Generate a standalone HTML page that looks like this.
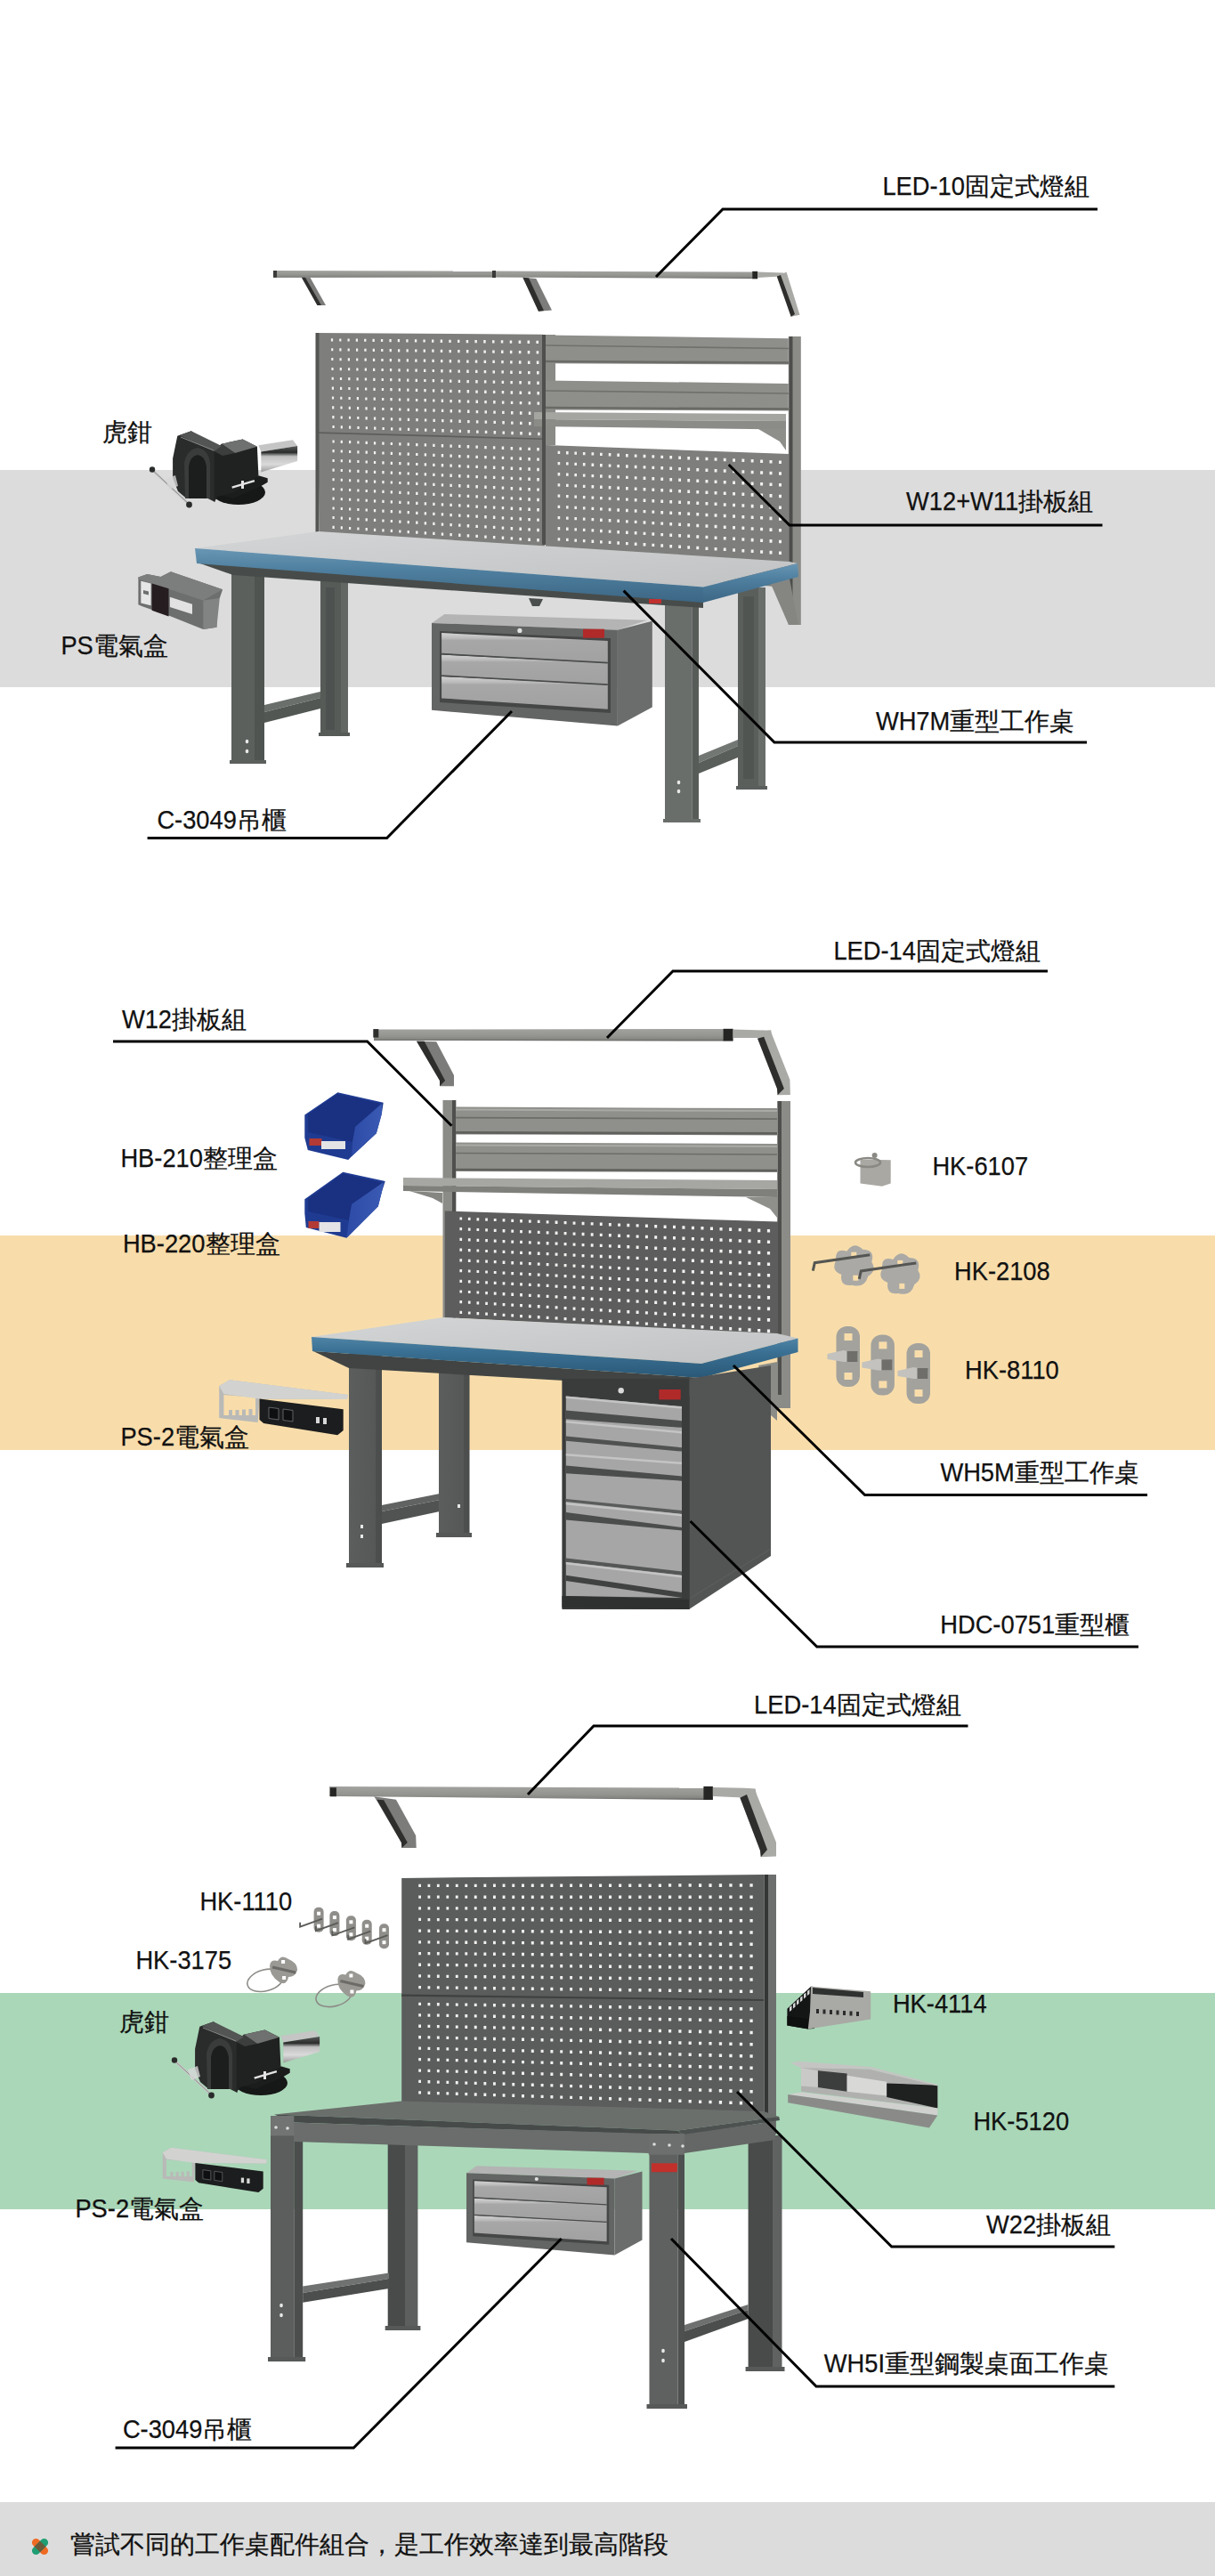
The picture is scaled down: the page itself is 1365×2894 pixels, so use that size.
<!DOCTYPE html>
<html><head><meta charset="utf-8"><title>Workbench accessories</title>
<style>
html,body{margin:0;padding:0;background:#fff;}
body{width:1365px;height:2894px;overflow:hidden;position:relative;}
svg{position:absolute;left:0;top:0;display:block;}
text{font-family:"Liberation Sans",sans-serif;fill:#111;stroke:#111;stroke-width:0.25px;}
</style></head><body>
<svg width="1365" height="2894" viewBox="0 0 1365 2894">
<rect x="0" y="528" width="1365" height="244" fill="#dcdcdc" />
<rect x="0" y="1388" width="1365" height="241" fill="#f8ddab" />
<rect x="0" y="2239" width="1365" height="243" fill="#aad7b8" />
<rect x="0" y="2811" width="1365" height="83" fill="#dcdcdc" />
<defs>
<linearGradient id="edge1" x1="0" y1="0" x2="0" y2="1"><stop offset="0" stop-color="#6896b4"/><stop offset="0.4" stop-color="#4f7f9f"/><stop offset="1" stop-color="#3c6684"/></linearGradient>
<linearGradient id="edge" x1="0" y1="0" x2="0" y2="1"><stop offset="0" stop-color="#4f84a6"/><stop offset="0.35" stop-color="#3a7093"/><stop offset="1" stop-color="#2a5877"/></linearGradient>
<linearGradient id="top1" x1="0" y1="0" x2="1" y2="1"><stop offset="0" stop-color="#d3d5d6"/><stop offset="1" stop-color="#c0c2c3"/></linearGradient>
<linearGradient id="bar" x1="0" y1="0" x2="0" y2="1"><stop offset="0" stop-color="#a2a3a0"/><stop offset="0.6" stop-color="#93948f"/><stop offset="0.85" stop-color="#858682"/><stop offset="1" stop-color="#5a5b58"/></linearGradient>
<linearGradient id="drw" x1="0" y1="0" x2="0" y2="1"><stop offset="0" stop-color="#d2d3d2"/><stop offset="0.18" stop-color="#b9bab9"/><stop offset="0.25" stop-color="#a6a7a6"/><stop offset="1" stop-color="#a0a1a0"/></linearGradient>
<linearGradient id="leg" x1="0" y1="0" x2="1" y2="0"><stop offset="0" stop-color="#5c615e"/><stop offset="0.65" stop-color="#575c59"/><stop offset="0.66" stop-color="#4c514e"/><stop offset="1" stop-color="#4a4f4c"/></linearGradient>
<linearGradient id="leg2" x1="0" y1="0" x2="1" y2="0"><stop offset="0" stop-color="#5b5e5d"/><stop offset="0.8" stop-color="#555857"/><stop offset="0.81" stop-color="#4c4f4e"/><stop offset="1" stop-color="#4a4d4c"/></linearGradient>
<linearGradient id="leg3" x1="0" y1="0" x2="1" y2="0"><stop offset="0" stop-color="#6a6d6b"/><stop offset="0.78" stop-color="#646765"/><stop offset="0.8" stop-color="#4f5251"/><stop offset="1" stop-color="#4b4e4d"/></linearGradient>
<linearGradient id="slide" x1="0" y1="0" x2="0" y2="1"><stop offset="0" stop-color="#5a5b5a"/><stop offset="0.25" stop-color="#2a2b2b"/><stop offset="0.4" stop-color="#bfc0bf"/><stop offset="0.7" stop-color="#d9dad9"/><stop offset="1" stop-color="#9a9b9a"/></linearGradient>
<linearGradient id="blueside" x1="0" y1="0" x2="1" y2="0"><stop offset="0" stop-color="#2d4ba6"/><stop offset="1" stop-color="#3a5ab4"/></linearGradient>
<g id="vice">
 <ellipse cx="268" cy="553" rx="30" ry="14" fill="#161717"/>
 <polygon points="240.7,555 262,560 290,548 300.7,541.7 300.7,537.2 290.4,534.3" fill="#1b1c1c"/>
 <polygon points="199.3,489.8 214.8,484.2 241.5,503.1 241.5,563.9 229.6,558 208.9,559.4 200,552 194.1,537.2 194.1,515" fill="#2a2b2b"/>
 <path d="M208,560 L207,520 Q210,505 222,503 Q234,505 236,520 L236,560 Z" fill="#3a3b3b"/>
 <path d="M212,560 L212,524 Q214,512 222,511 Q230,512 232,524 L232,560 Z" fill="#1c1d1d"/>
 <polygon points="240.7,506.9 248.9,498.7 272.6,493.5 288.9,501.7 290.4,534.3 262.2,553.5 244.4,558 240.7,563.9" fill="#202121"/>
 <polygon points="248.9,498.7 272.6,493.5 288.9,501.7 264,509" fill="#6f7070"/>
 <polygon points="240.7,506.9 248.9,498.7 264,509 250,512" fill="#3c3d3d"/>
 <polygon points="201.5,489.1 214.8,484.2 248.9,500.9 240.7,506.9" fill="#535454"/>
 <polyline points="203,491 240,506" fill="none" stroke="#8a8b8b" stroke-width="1"/>
 <polygon points="290.4,500.2 328.9,494.3 334.1,500.9 293.3,507.6" fill="#c4c5c4"/>
 <polygon points="293.3,507.6 334.1,500.9 334.1,518 293.3,530.6" fill="url(#slide)"/>
 <polyline points="170,527 213,567" fill="none" stroke="#c9cac9" stroke-width="2.4"/>
 <polyline points="170,527 213,567" fill="none" stroke="#7a7b7b" stroke-width="0.8"/>
 <circle cx="171" cy="527.5" r="3.2" fill="#2a2b2b"/><circle cx="212.5" cy="567" r="3.4" fill="#2a2b2b"/>
 <polyline points="260.7,547.6 285.9,540.2" fill="none" stroke="#e4e4e4" stroke-width="2.4"/>
 <rect x="271" y="540" width="3" height="9" fill="#e4e4e4"/>
 <polygon points="186,538 197,534 200,546 190,550" fill="#d7d7d7" opacity="0.8"/>
</g>
<g id="cab">
 <polygon points="485,700 499.4,690 727.2,696.7 693.9,707.8" fill="#b3b4b3"/>
 <polygon points="485,700 693.9,707.8 693.9,815.6 485,797.8" fill="#636564"/>
 <polygon points="693.9,707.8 732.8,697.8 732.8,794.4 693.9,815.6" fill="#6b6d6c"/>
 <polygon points="494,709 686,717 686,801 494,789" fill="#454646"/>
 <polygon points="496.1,711.1 682.8,720 682.8,744.4 496.1,734.4" fill="url(#drw)"/>
 <polygon points="496.1,735.6 682.8,744.4 682.8,768.9 496.1,758.9" fill="url(#drw)"/>
 <polygon points="496.1,760 682.8,768.9 682.8,796.7 496.1,784.4" fill="url(#drw)"/>
 <polyline points="496.1,734.6 682.8,744.6" fill="none" stroke="#4a4b4b" stroke-width="1.6"/>
 <polyline points="496.1,759.1 682.8,769.1" fill="none" stroke="#4a4b4b" stroke-width="1.6"/>
 <circle cx="583.9" cy="708.4" r="2.6" fill="#e2e2e2"/>
 <rect x="655" y="706.7" width="24" height="10" fill="#b02a2a"/>
</g>
<g id="ps2">
 <path fill-rule="evenodd" fill="#b9bab8" d="M246.2,1556.9 L258,1550.3 L391,1566.9 L389.7,1572.1 L291.5,1571.4 L289.6,1598 L246.2,1593 Z M251.4,1567 L287,1570 L287,1590 L283.5,1590 L283.5,1583 L279.5,1583 L279.5,1590 L276,1590 L276,1583.5 L272,1583.5 L272,1590 L268.5,1590 L268.5,1584 L264.5,1584 L264.5,1590 L261,1590 L261,1584 L257,1584 L257,1590 L251.4,1590 Z"/>
 <polygon points="246.2,1556.9 258,1550.3 391,1566.9 389.7,1572.1 291.5,1571.4 251.4,1566" fill="#d2d3d1"/>
 <polygon points="291.5,1571.4 385.7,1583.2 385.7,1606.9 379.2,1612.2 296.2,1599 291.5,1595" fill="#1c1d1e"/>
 <polygon points="302,1581 313,1582.5 313,1595 302,1593.5" fill="#0e0f10" stroke="#6a6c70" stroke-width="0.9"/>
 <polygon points="318,1583 329,1584.5 329,1597 318,1595.5" fill="#0e0f10" stroke="#6a6c70" stroke-width="0.9"/>
 <rect x="355" y="1592" width="4" height="7" fill="#d8d8d8"/><rect x="363" y="1593" width="4" height="7" fill="#d8d8d8"/>
</g>
</defs>
<polygon points="307,304 553,304.5 553,311.5 307,311.7" fill="url(#bar)" />
<polygon points="553,304.5 845.5,305.5 845.5,313 553,311.5" fill="url(#bar)" />
<rect x="307" y="304" width="4" height="7.7" fill="#3a3b39" />
<rect x="553" y="304" width="4" height="8" fill="#3a3b39" />
<rect x="845.2" y="304.8" width="6" height="8.5" fill="#252624" />
<polygon points="851,305.6 880,306.5 884.7,310 851,312" fill="#a9aaa6" />
<polygon points="338.9,311.7 348.4,311.7 366,343 356.5,343" fill="#7c7d7a" />
<polygon points="338.9,311.7 343,311.7 361,343 356.5,343" fill="#2e2f2d" />
<polygon points="587.4,311.7 602.3,313.1 620,348.4 605,349.8" fill="#7c7d7a" />
<polygon points="587.4,311.7 594,312.2 611,349 605,349.8" fill="#2e2f2d" />
<polygon points="872.8,310.4 883.5,305.6 898.5,353.8 888.7,355.8" fill="#a9aaa6" />
<polygon points="872.8,310.4 877,309 893,353 888.7,355.8" fill="#2e2f2d" />
<polygon points="355,374 609.5,375.8 612,616 359,598" fill="#7e7f7c" />
<path fill="#f2f2f0" d="M371.9 380.3h2.2v3.1h-2.2zM372.1 391.2h2.2v3.1h-2.2zM372.2 402.0h2.2v3.1h-2.2zM372.4 412.9h2.2v3.1h-2.2zM372.6 423.7h2.2v3.1h-2.2zM372.8 434.6h2.2v3.1h-2.2zM372.9 445.4h2.2v3.1h-2.2zM373.1 456.3h2.2v3.1h-2.2zM373.3 467.1h2.2v3.1h-2.2zM373.5 477.9h2.2v3.1h-2.2zM381.2 380.4h2.2v3.1h-2.2zM381.3 391.3h2.2v3.1h-2.2zM381.5 402.2h2.2v3.1h-2.2zM381.7 413.1h2.2v3.1h-2.2zM381.9 423.9h2.2v3.1h-2.2zM382.0 434.8h2.2v3.1h-2.2zM382.2 445.7h2.2v3.1h-2.2zM382.4 456.5h2.2v3.1h-2.2zM382.6 467.4h2.2v3.1h-2.2zM382.7 478.3h2.2v3.1h-2.2zM390.5 380.5h2.2v3.1h-2.2zM390.6 391.4h2.2v3.1h-2.2zM390.8 402.3h2.2v3.1h-2.2zM391.0 413.2h2.2v3.1h-2.2zM391.2 424.1h2.2v3.1h-2.2zM391.3 435.0h2.2v3.1h-2.2zM391.5 445.9h2.2v3.1h-2.2zM391.7 456.8h2.2v3.1h-2.2zM391.9 467.7h2.2v3.1h-2.2zM392.0 478.6h2.2v3.1h-2.2zM399.8 380.6h2.2v3.1h-2.2zM400.0 391.6h2.2v3.1h-2.2zM400.1 402.5h2.2v3.1h-2.2zM400.3 413.4h2.2v3.1h-2.2zM400.5 424.3h2.2v3.1h-2.2zM400.7 435.2h2.2v3.1h-2.2zM400.8 446.1h2.2v3.1h-2.2zM401.0 457.1h2.2v3.1h-2.2zM401.2 468.0h2.2v3.1h-2.2zM401.4 478.9h2.2v3.1h-2.2zM409.1 380.7h2.3v3.1h-2.3zM409.3 391.7h2.3v3.1h-2.3zM409.5 402.6h2.3v3.1h-2.3zM409.7 413.6h2.3v3.1h-2.3zM409.8 424.5h2.3v3.1h-2.3zM410.0 435.4h2.3v3.1h-2.3zM410.2 446.4h2.3v3.1h-2.3zM410.4 457.3h2.3v3.1h-2.3zM410.5 468.3h2.3v3.1h-2.3zM410.7 479.2h2.3v3.1h-2.3zM418.5 380.8h2.3v3.2h-2.3zM418.7 391.8h2.3v3.2h-2.3zM418.9 402.8h2.3v3.2h-2.3zM419.0 413.7h2.3v3.2h-2.3zM419.2 424.7h2.3v3.2h-2.3zM419.4 435.7h2.3v3.2h-2.3zM419.6 446.6h2.3v3.2h-2.3zM419.7 457.6h2.3v3.2h-2.3zM419.9 468.6h2.3v3.2h-2.3zM420.1 479.5h2.3v3.2h-2.3zM427.9 380.9h2.3v3.2h-2.3zM428.1 391.9h2.3v3.2h-2.3zM428.3 402.9h2.3v3.2h-2.3zM428.5 413.9h2.3v3.2h-2.3zM428.6 424.9h2.3v3.2h-2.3zM428.8 435.9h2.3v3.2h-2.3zM429.0 446.9h2.3v3.2h-2.3zM429.2 457.9h2.3v3.2h-2.3zM429.3 468.9h2.3v3.2h-2.3zM429.5 479.9h2.3v3.2h-2.3zM437.4 381.0h2.3v3.2h-2.3zM437.6 392.0h2.3v3.2h-2.3zM437.7 403.1h2.3v3.2h-2.3zM437.9 414.1h2.3v3.2h-2.3zM438.1 425.1h2.3v3.2h-2.3zM438.3 436.1h2.3v3.2h-2.3zM438.4 447.1h2.3v3.2h-2.3zM438.6 458.1h2.3v3.2h-2.3zM438.8 469.2h2.3v3.2h-2.3zM439.0 480.2h2.3v3.2h-2.3zM446.8 381.1h2.3v3.2h-2.3zM447.0 392.2h2.3v3.2h-2.3zM447.2 403.2h2.3v3.2h-2.3zM447.4 414.2h2.3v3.2h-2.3zM447.6 425.3h2.3v3.2h-2.3zM447.7 436.3h2.3v3.2h-2.3zM447.9 447.4h2.3v3.2h-2.3zM448.1 458.4h2.3v3.2h-2.3zM448.3 469.5h2.3v3.2h-2.3zM448.4 480.5h2.3v3.2h-2.3zM456.3 381.2h2.3v3.2h-2.3zM456.5 392.3h2.3v3.2h-2.3zM456.7 403.3h2.3v3.2h-2.3zM456.9 414.4h2.3v3.2h-2.3zM457.1 425.5h2.3v3.2h-2.3zM457.2 436.6h2.3v3.2h-2.3zM457.4 447.6h2.3v3.2h-2.3zM457.6 458.7h2.3v3.2h-2.3zM457.8 469.8h2.3v3.2h-2.3zM457.9 480.8h2.3v3.2h-2.3zM465.9 381.3h2.4v3.2h-2.4zM466.1 392.4h2.4v3.2h-2.4zM466.2 403.5h2.4v3.2h-2.4zM466.4 414.6h2.4v3.2h-2.4zM466.6 425.7h2.4v3.2h-2.4zM466.8 436.8h2.4v3.2h-2.4zM466.9 447.9h2.4v3.2h-2.4zM467.1 459.0h2.4v3.2h-2.4zM467.3 470.1h2.4v3.2h-2.4zM467.5 481.2h2.4v3.2h-2.4zM475.4 381.4h2.4v3.2h-2.4zM475.6 392.5h2.4v3.2h-2.4zM475.8 403.6h2.4v3.2h-2.4zM476.0 414.8h2.4v3.2h-2.4zM476.2 425.9h2.4v3.2h-2.4zM476.3 437.0h2.4v3.2h-2.4zM476.5 448.1h2.4v3.2h-2.4zM476.7 459.2h2.4v3.2h-2.4zM476.9 470.4h2.4v3.2h-2.4zM477.0 481.5h2.4v3.2h-2.4zM485.0 381.5h2.4v3.2h-2.4zM485.2 392.6h2.4v3.2h-2.4zM485.4 403.8h2.4v3.2h-2.4zM485.6 414.9h2.4v3.2h-2.4zM485.7 426.1h2.4v3.2h-2.4zM485.9 437.2h2.4v3.2h-2.4zM486.1 448.4h2.4v3.2h-2.4zM486.3 459.5h2.4v3.2h-2.4zM486.5 470.7h2.4v3.2h-2.4zM486.6 481.8h2.4v3.2h-2.4zM494.7 381.6h2.4v3.3h-2.4zM494.8 392.8h2.4v3.3h-2.4zM495.0 403.9h2.4v3.3h-2.4zM495.2 415.1h2.4v3.3h-2.4zM495.4 426.3h2.4v3.3h-2.4zM495.5 437.5h2.4v3.3h-2.4zM495.7 448.6h2.4v3.3h-2.4zM495.9 459.8h2.4v3.3h-2.4zM496.1 471.0h2.4v3.3h-2.4zM496.3 482.1h2.4v3.3h-2.4zM504.3 381.7h2.4v3.3h-2.4zM504.5 392.9h2.4v3.3h-2.4zM504.7 404.1h2.4v3.3h-2.4zM504.8 415.3h2.4v3.3h-2.4zM505.0 426.5h2.4v3.3h-2.4zM505.2 437.7h2.4v3.3h-2.4zM505.4 448.9h2.4v3.3h-2.4zM505.6 460.1h2.4v3.3h-2.4zM505.7 471.3h2.4v3.3h-2.4zM505.9 482.5h2.4v3.3h-2.4zM514.0 381.8h2.4v3.3h-2.4zM514.2 393.0h2.4v3.3h-2.4zM514.3 404.2h2.4v3.3h-2.4zM514.5 415.5h2.4v3.3h-2.4zM514.7 426.7h2.4v3.3h-2.4zM514.9 437.9h2.4v3.3h-2.4zM515.1 449.1h2.4v3.3h-2.4zM515.2 460.3h2.4v3.3h-2.4zM515.4 471.6h2.4v3.3h-2.4zM515.6 482.8h2.4v3.3h-2.4zM523.7 381.9h2.5v3.3h-2.5zM523.9 393.1h2.5v3.3h-2.5zM524.1 404.4h2.5v3.3h-2.5zM524.2 415.6h2.5v3.3h-2.5zM524.4 426.9h2.5v3.3h-2.5zM524.6 438.1h2.5v3.3h-2.5zM524.8 449.4h2.5v3.3h-2.5zM525.0 460.6h2.5v3.3h-2.5zM525.1 471.9h2.5v3.3h-2.5zM525.3 483.1h2.5v3.3h-2.5zM533.4 382.0h2.5v3.3h-2.5zM533.6 393.3h2.5v3.3h-2.5zM533.8 404.5h2.5v3.3h-2.5zM534.0 415.8h2.5v3.3h-2.5zM534.2 427.1h2.5v3.3h-2.5zM534.3 438.4h2.5v3.3h-2.5zM534.5 449.6h2.5v3.3h-2.5zM534.7 460.9h2.5v3.3h-2.5zM534.9 472.2h2.5v3.3h-2.5zM535.1 483.5h2.5v3.3h-2.5zM543.2 382.1h2.5v3.3h-2.5zM543.4 393.4h2.5v3.3h-2.5zM543.6 404.7h2.5v3.3h-2.5zM543.7 416.0h2.5v3.3h-2.5zM543.9 427.3h2.5v3.3h-2.5zM544.1 438.6h2.5v3.3h-2.5zM544.3 449.9h2.5v3.3h-2.5zM544.5 461.2h2.5v3.3h-2.5zM544.6 472.5h2.5v3.3h-2.5zM544.8 483.8h2.5v3.3h-2.5zM553.0 382.2h2.5v3.3h-2.5zM553.2 393.5h2.5v3.3h-2.5zM553.4 404.8h2.5v3.3h-2.5zM553.5 416.2h2.5v3.3h-2.5zM553.7 427.5h2.5v3.3h-2.5zM553.9 438.8h2.5v3.3h-2.5zM554.1 450.1h2.5v3.3h-2.5zM554.3 461.5h2.5v3.3h-2.5zM554.5 472.8h2.5v3.3h-2.5zM554.6 484.1h2.5v3.3h-2.5zM562.8 382.3h2.5v3.3h-2.5zM563.0 393.6h2.5v3.3h-2.5zM563.2 405.0h2.5v3.3h-2.5zM563.4 416.3h2.5v3.3h-2.5zM563.6 427.7h2.5v3.3h-2.5zM563.7 439.0h2.5v3.3h-2.5zM563.9 450.4h2.5v3.3h-2.5zM564.1 461.8h2.5v3.3h-2.5zM564.3 473.1h2.5v3.3h-2.5zM564.5 484.5h2.5v3.3h-2.5zM572.7 382.4h2.5v3.4h-2.5zM572.9 393.8h2.5v3.4h-2.5zM573.1 405.2h2.5v3.4h-2.5zM573.2 416.5h2.5v3.4h-2.5zM573.4 427.9h2.5v3.4h-2.5zM573.6 439.3h2.5v3.4h-2.5zM573.8 450.7h2.5v3.4h-2.5zM574.0 462.0h2.5v3.4h-2.5zM574.1 473.4h2.5v3.4h-2.5zM574.3 484.8h2.5v3.4h-2.5zM582.6 382.5h2.6v3.4h-2.6zM582.8 393.9h2.6v3.4h-2.6zM582.9 405.3h2.6v3.4h-2.6zM583.1 416.7h2.6v3.4h-2.6zM583.3 428.1h2.6v3.4h-2.6zM583.5 439.5h2.6v3.4h-2.6zM583.7 450.9h2.6v3.4h-2.6zM583.9 462.3h2.6v3.4h-2.6zM584.0 473.7h2.6v3.4h-2.6zM584.2 485.1h2.6v3.4h-2.6zM592.5 382.6h2.6v3.4h-2.6zM592.7 394.0h2.6v3.4h-2.6zM592.9 405.5h2.6v3.4h-2.6zM593.0 416.9h2.6v3.4h-2.6zM593.2 428.3h2.6v3.4h-2.6zM593.4 439.7h2.6v3.4h-2.6zM593.6 451.2h2.6v3.4h-2.6zM593.8 462.6h2.6v3.4h-2.6zM594.0 474.0h2.6v3.4h-2.6zM594.1 485.5h2.6v3.4h-2.6zM602.4 382.7h2.6v3.4h-2.6zM602.6 394.2h2.6v3.4h-2.6zM602.8 405.6h2.6v3.4h-2.6zM603.0 417.1h2.6v3.4h-2.6zM603.2 428.5h2.6v3.4h-2.6zM603.4 440.0h2.6v3.4h-2.6zM603.5 451.4h2.6v3.4h-2.6zM603.7 462.9h2.6v3.4h-2.6zM603.9 474.3h2.6v3.4h-2.6zM604.1 485.8h2.6v3.4h-2.6z"/>
<path fill="#f2f2f0" d="M373.5 494.4h2.2v3.1h-2.2zM373.5 505.1h2.2v3.1h-2.2zM373.5 515.9h2.2v3.1h-2.2zM373.5 526.6h2.2v3.1h-2.2zM373.5 537.2h2.2v3.1h-2.2zM373.5 548.0h2.2v3.1h-2.2zM373.5 558.6h2.2v3.1h-2.2zM373.5 569.4h2.2v3.1h-2.2zM373.5 580.0h2.2v3.1h-2.2zM373.5 590.8h2.2v3.1h-2.2zM382.7 494.8h2.2v3.1h-2.2zM382.7 505.5h2.2v3.1h-2.2zM382.7 516.2h2.2v3.1h-2.2zM382.7 527.0h2.2v3.1h-2.2zM382.7 537.7h2.2v3.1h-2.2zM382.7 548.4h2.2v3.1h-2.2zM382.7 559.2h2.2v3.1h-2.2zM382.7 569.9h2.2v3.1h-2.2zM382.7 580.6h2.2v3.1h-2.2zM382.7 591.3h2.2v3.1h-2.2zM392.0 495.1h2.2v3.1h-2.2zM392.0 505.9h2.2v3.1h-2.2zM392.0 516.6h2.2v3.1h-2.2zM392.0 527.4h2.2v3.1h-2.2zM392.0 538.2h2.2v3.1h-2.2zM392.0 548.9h2.2v3.1h-2.2zM392.0 559.7h2.2v3.1h-2.2zM392.0 570.4h2.2v3.1h-2.2zM392.0 581.2h2.2v3.1h-2.2zM392.0 591.9h2.2v3.1h-2.2zM401.3 495.5h2.2v3.1h-2.2zM401.3 506.3h2.2v3.1h-2.2zM401.3 517.0h2.2v3.1h-2.2zM401.3 527.8h2.2v3.1h-2.2zM401.3 538.6h2.2v3.1h-2.2zM401.3 549.4h2.2v3.1h-2.2zM401.3 560.2h2.2v3.1h-2.2zM401.3 570.9h2.2v3.1h-2.2zM401.3 581.7h2.2v3.1h-2.2zM401.3 592.5h2.2v3.1h-2.2zM410.6 495.8h2.3v3.1h-2.3zM410.6 506.6h2.3v3.1h-2.3zM410.6 517.5h2.3v3.1h-2.3zM410.6 528.3h2.3v3.1h-2.3zM410.6 539.1h2.3v3.1h-2.3zM410.6 549.9h2.3v3.1h-2.3zM410.6 560.7h2.3v3.1h-2.3zM410.6 571.5h2.3v3.1h-2.3zM410.6 582.3h2.3v3.1h-2.3zM410.6 593.1h2.3v3.1h-2.3zM419.9 496.2h2.3v3.2h-2.3zM419.9 507.0h2.3v3.2h-2.3zM419.9 517.9h2.3v3.2h-2.3zM419.9 528.7h2.3v3.2h-2.3zM419.9 539.5h2.3v3.2h-2.3zM419.9 550.3h2.3v3.2h-2.3zM419.9 561.2h2.3v3.2h-2.3zM419.9 572.0h2.3v3.2h-2.3zM419.9 582.8h2.3v3.2h-2.3zM419.9 593.7h2.3v3.2h-2.3zM429.3 496.6h2.3v3.2h-2.3zM429.3 507.4h2.3v3.2h-2.3zM429.3 518.3h2.3v3.2h-2.3zM429.3 529.1h2.3v3.2h-2.3zM429.3 540.0h2.3v3.2h-2.3zM429.3 550.8h2.3v3.2h-2.3zM429.3 561.7h2.3v3.2h-2.3zM429.3 572.5h2.3v3.2h-2.3zM429.3 583.4h2.3v3.2h-2.3zM429.3 594.2h2.3v3.2h-2.3zM438.7 496.9h2.3v3.2h-2.3zM438.7 507.8h2.3v3.2h-2.3zM438.7 518.7h2.3v3.2h-2.3zM438.7 529.5h2.3v3.2h-2.3zM438.7 540.4h2.3v3.2h-2.3zM438.7 551.3h2.3v3.2h-2.3zM438.7 562.2h2.3v3.2h-2.3zM438.7 573.1h2.3v3.2h-2.3zM438.7 583.9h2.3v3.2h-2.3zM438.7 594.8h2.3v3.2h-2.3zM448.2 497.3h2.3v3.2h-2.3zM448.2 508.2h2.3v3.2h-2.3zM448.2 519.1h2.3v3.2h-2.3zM448.2 530.0h2.3v3.2h-2.3zM448.2 540.9h2.3v3.2h-2.3zM448.2 551.8h2.3v3.2h-2.3zM448.2 562.7h2.3v3.2h-2.3zM448.2 573.6h2.3v3.2h-2.3zM448.2 584.5h2.3v3.2h-2.3zM448.2 595.4h2.3v3.2h-2.3zM457.6 497.6h2.3v3.2h-2.3zM457.6 508.6h2.3v3.2h-2.3zM457.6 519.5h2.3v3.2h-2.3zM457.6 530.4h2.3v3.2h-2.3zM457.6 541.3h2.3v3.2h-2.3zM457.6 552.3h2.3v3.2h-2.3zM457.6 563.2h2.3v3.2h-2.3zM457.6 574.1h2.3v3.2h-2.3zM457.6 585.1h2.3v3.2h-2.3zM457.6 596.0h2.3v3.2h-2.3zM467.1 498.0h2.4v3.2h-2.4zM467.1 508.9h2.4v3.2h-2.4zM467.1 519.9h2.4v3.2h-2.4zM467.1 530.9h2.4v3.2h-2.4zM467.1 541.8h2.4v3.2h-2.4zM467.1 552.8h2.4v3.2h-2.4zM467.1 563.7h2.4v3.2h-2.4zM467.1 574.7h2.4v3.2h-2.4zM467.1 585.6h2.4v3.2h-2.4zM467.1 596.6h2.4v3.2h-2.4zM476.7 498.3h2.4v3.2h-2.4zM476.7 509.3h2.4v3.2h-2.4zM476.7 520.3h2.4v3.2h-2.4zM476.7 531.3h2.4v3.2h-2.4zM476.7 542.3h2.4v3.2h-2.4zM476.7 553.3h2.4v3.2h-2.4zM476.7 564.2h2.4v3.2h-2.4zM476.7 575.2h2.4v3.2h-2.4zM476.7 586.2h2.4v3.2h-2.4zM476.7 597.2h2.4v3.2h-2.4zM486.2 498.7h2.4v3.2h-2.4zM486.2 509.7h2.4v3.2h-2.4zM486.2 520.7h2.4v3.2h-2.4zM486.2 531.7h2.4v3.2h-2.4zM486.2 542.7h2.4v3.2h-2.4zM486.2 553.7h2.4v3.2h-2.4zM486.2 564.8h2.4v3.2h-2.4zM486.2 575.8h2.4v3.2h-2.4zM486.2 586.8h2.4v3.2h-2.4zM486.2 597.8h2.4v3.2h-2.4zM495.8 499.1h2.4v3.3h-2.4zM495.8 510.1h2.4v3.3h-2.4zM495.8 521.1h2.4v3.3h-2.4zM495.8 532.2h2.4v3.3h-2.4zM495.8 543.2h2.4v3.3h-2.4zM495.8 554.2h2.4v3.3h-2.4zM495.8 565.3h2.4v3.3h-2.4zM495.8 576.3h2.4v3.3h-2.4zM495.8 587.4h2.4v3.3h-2.4zM495.8 598.4h2.4v3.3h-2.4zM505.4 499.4h2.4v3.3h-2.4zM505.4 510.5h2.4v3.3h-2.4zM505.4 521.5h2.4v3.3h-2.4zM505.4 532.6h2.4v3.3h-2.4zM505.4 543.7h2.4v3.3h-2.4zM505.4 554.7h2.4v3.3h-2.4zM505.4 565.8h2.4v3.3h-2.4zM505.4 576.9h2.4v3.3h-2.4zM505.4 587.9h2.4v3.3h-2.4zM505.4 599.0h2.4v3.3h-2.4zM515.1 499.8h2.4v3.3h-2.4zM515.1 510.9h2.4v3.3h-2.4zM515.1 522.0h2.4v3.3h-2.4zM515.1 533.1h2.4v3.3h-2.4zM515.1 544.1h2.4v3.3h-2.4zM515.1 555.2h2.4v3.3h-2.4zM515.1 566.3h2.4v3.3h-2.4zM515.1 577.4h2.4v3.3h-2.4zM515.1 588.5h2.4v3.3h-2.4zM515.1 599.6h2.4v3.3h-2.4zM524.7 500.1h2.5v3.3h-2.5zM524.7 511.3h2.5v3.3h-2.5zM524.7 522.4h2.5v3.3h-2.5zM524.7 533.5h2.5v3.3h-2.5zM524.7 544.6h2.5v3.3h-2.5zM524.7 555.7h2.5v3.3h-2.5zM524.7 566.8h2.5v3.3h-2.5zM524.7 578.0h2.5v3.3h-2.5zM524.7 589.1h2.5v3.3h-2.5zM524.7 600.2h2.5v3.3h-2.5zM534.4 500.5h2.5v3.3h-2.5zM534.4 511.7h2.5v3.3h-2.5zM534.4 522.8h2.5v3.3h-2.5zM534.4 533.9h2.5v3.3h-2.5zM534.4 545.1h2.5v3.3h-2.5zM534.4 556.2h2.5v3.3h-2.5zM534.4 567.4h2.5v3.3h-2.5zM534.4 578.5h2.5v3.3h-2.5zM534.4 589.7h2.5v3.3h-2.5zM534.4 600.8h2.5v3.3h-2.5zM544.2 500.9h2.5v3.3h-2.5zM544.2 512.0h2.5v3.3h-2.5zM544.2 523.2h2.5v3.3h-2.5zM544.2 534.4h2.5v3.3h-2.5zM544.2 545.6h2.5v3.3h-2.5zM544.2 556.7h2.5v3.3h-2.5zM544.2 567.9h2.5v3.3h-2.5zM544.2 579.1h2.5v3.3h-2.5zM544.2 590.2h2.5v3.3h-2.5zM544.2 601.4h2.5v3.3h-2.5zM553.9 501.2h2.5v3.3h-2.5zM553.9 512.4h2.5v3.3h-2.5zM553.9 523.6h2.5v3.3h-2.5zM553.9 534.8h2.5v3.3h-2.5zM553.9 546.0h2.5v3.3h-2.5zM553.9 557.2h2.5v3.3h-2.5zM553.9 568.4h2.5v3.3h-2.5zM553.9 579.6h2.5v3.3h-2.5zM553.9 590.8h2.5v3.3h-2.5zM553.9 602.0h2.5v3.3h-2.5zM563.7 501.6h2.5v3.3h-2.5zM563.7 512.8h2.5v3.3h-2.5zM563.7 524.1h2.5v3.3h-2.5zM563.7 535.3h2.5v3.3h-2.5zM563.7 546.5h2.5v3.3h-2.5zM563.7 557.7h2.5v3.3h-2.5zM563.7 569.0h2.5v3.3h-2.5zM563.7 580.2h2.5v3.3h-2.5zM563.7 591.4h2.5v3.3h-2.5zM563.7 602.6h2.5v3.3h-2.5zM573.6 502.0h2.5v3.4h-2.5zM573.6 513.2h2.5v3.4h-2.5zM573.6 524.5h2.5v3.4h-2.5zM573.6 535.7h2.5v3.4h-2.5zM573.6 547.0h2.5v3.4h-2.5zM573.6 558.2h2.5v3.4h-2.5zM573.6 569.5h2.5v3.4h-2.5zM573.6 580.7h2.5v3.4h-2.5zM573.6 592.0h2.5v3.4h-2.5zM573.6 603.2h2.5v3.4h-2.5zM583.4 502.4h2.6v3.4h-2.6zM583.4 513.6h2.6v3.4h-2.6zM583.4 524.9h2.6v3.4h-2.6zM583.4 536.2h2.6v3.4h-2.6zM583.4 547.5h2.6v3.4h-2.6zM583.4 558.7h2.6v3.4h-2.6zM583.4 570.0h2.6v3.4h-2.6zM583.4 581.3h2.6v3.4h-2.6zM583.4 592.6h2.6v3.4h-2.6zM583.4 603.9h2.6v3.4h-2.6zM593.3 502.7h2.6v3.4h-2.6zM593.3 514.0h2.6v3.4h-2.6zM593.3 525.3h2.6v3.4h-2.6zM593.3 536.6h2.6v3.4h-2.6zM593.3 548.0h2.6v3.4h-2.6zM593.3 559.3h2.6v3.4h-2.6zM593.3 570.6h2.6v3.4h-2.6zM593.3 581.9h2.6v3.4h-2.6zM593.3 593.2h2.6v3.4h-2.6zM593.3 604.5h2.6v3.4h-2.6zM603.2 503.1h2.6v3.4h-2.6zM603.2 514.4h2.6v3.4h-2.6zM603.2 525.8h2.6v3.4h-2.6zM603.2 537.1h2.6v3.4h-2.6zM603.2 548.4h2.6v3.4h-2.6zM603.2 559.8h2.6v3.4h-2.6zM603.2 571.1h2.6v3.4h-2.6zM603.2 582.4h2.6v3.4h-2.6zM603.2 593.8h2.6v3.4h-2.6zM603.2 605.1h2.6v3.4h-2.6z"/>
<polyline points="358,486.1 612,493.3" fill="none" stroke="#5e5f5c" stroke-width="1.6" />
<rect x="354.5" y="374" width="4" height="238" fill="#545653" />
<rect x="613" y="376" width="273" height="124" fill="#ffffff" />
<rect x="613" y="376" width="11" height="124" fill="#8a8b87" />
<polygon points="612.8,376.4 885.8,380.2 885.8,409.6 612.8,408.3" fill="#8e8f8b" />
<polyline points="613,388 886,391.5" fill="none" stroke="#70716d" stroke-width="1.6" />
<polyline points="613,406 886,407.5" fill="none" stroke="#696a66" stroke-width="2.4" />
<polygon points="612.8,427.4 885.8,431 885.8,461.5 612.8,460.6" fill="#8e8f8b" />
<polyline points="613,439 886,442" fill="none" stroke="#70716d" stroke-width="1.6" />
<polyline points="613,458 886,459.5" fill="none" stroke="#696a66" stroke-width="2.4" />
<polygon points="600,463 883,465 883,473 600,471" fill="#a4a5a1" />
<polygon points="600,471 883,473 883,482.5 600,479" fill="#8b8c88" />
<polygon points="852,482 883,482 883,506 876,496" fill="#8e8f8b" />
<polygon points="613,500 886,510 886,660 613,640" fill="#7e7f7c" />
<path fill="#f2f2f0" d="M626.6 506.7h2.6v3.3h-2.6zM626.6 518.9h2.6v3.3h-2.6zM626.6 531.1h2.6v3.3h-2.6zM626.6 543.2h2.6v3.3h-2.6zM626.6 555.5h2.6v3.3h-2.6zM626.6 567.7h2.6v3.3h-2.6zM626.6 579.9h2.6v3.3h-2.6zM626.6 592.1h2.6v3.3h-2.6zM626.6 604.2h2.6v3.3h-2.6zM626.6 616.5h2.6v3.3h-2.6zM636.0 507.1h2.6v3.3h-2.6zM636.0 519.3h2.6v3.3h-2.6zM636.0 531.5h2.6v3.3h-2.6zM636.0 543.7h2.6v3.3h-2.6zM636.0 555.9h2.6v3.3h-2.6zM636.0 568.2h2.6v3.3h-2.6zM636.0 580.4h2.6v3.3h-2.6zM636.0 592.6h2.6v3.3h-2.6zM636.0 604.8h2.6v3.3h-2.6zM636.0 617.0h2.6v3.3h-2.6zM645.4 507.5h2.6v3.3h-2.6zM645.4 519.7h2.6v3.3h-2.6zM645.4 531.9h2.6v3.3h-2.6zM645.4 544.2h2.6v3.3h-2.6zM645.4 556.4h2.6v3.3h-2.6zM645.4 568.7h2.6v3.3h-2.6zM645.4 580.9h2.6v3.3h-2.6zM645.4 593.2h2.6v3.3h-2.6zM645.4 605.4h2.6v3.3h-2.6zM645.4 617.6h2.6v3.3h-2.6zM654.9 507.9h2.6v3.3h-2.6zM654.9 520.1h2.6v3.3h-2.6zM654.9 532.4h2.6v3.3h-2.6zM654.9 544.7h2.6v3.3h-2.6zM654.9 556.9h2.6v3.3h-2.6zM654.9 569.2h2.6v3.3h-2.6zM654.9 581.5h2.6v3.3h-2.6zM654.9 593.7h2.6v3.3h-2.6zM654.9 606.0h2.6v3.3h-2.6zM654.9 618.2h2.6v3.3h-2.6zM664.5 508.3h2.7v3.3h-2.7zM664.5 520.6h2.7v3.3h-2.7zM664.5 532.9h2.7v3.3h-2.7zM664.5 545.1h2.7v3.3h-2.7zM664.5 557.4h2.7v3.3h-2.7zM664.5 569.7h2.7v3.3h-2.7zM664.5 582.0h2.7v3.3h-2.7zM664.5 594.3h2.7v3.3h-2.7zM664.5 606.6h2.7v3.3h-2.7zM664.5 618.9h2.7v3.3h-2.7zM674.0 508.7h2.7v3.4h-2.7zM674.0 521.0h2.7v3.4h-2.7zM674.0 533.3h2.7v3.4h-2.7zM674.0 545.6h2.7v3.4h-2.7zM674.0 557.9h2.7v3.4h-2.7zM674.0 570.2h2.7v3.4h-2.7zM674.0 582.5h2.7v3.4h-2.7zM674.0 594.8h2.7v3.4h-2.7zM674.0 607.2h2.7v3.4h-2.7zM674.0 619.5h2.7v3.4h-2.7zM683.7 509.1h2.7v3.4h-2.7zM683.7 521.4h2.7v3.4h-2.7zM683.7 533.8h2.7v3.4h-2.7zM683.7 546.1h2.7v3.4h-2.7zM683.7 558.4h2.7v3.4h-2.7zM683.7 570.8h2.7v3.4h-2.7zM683.7 583.1h2.7v3.4h-2.7zM683.7 595.4h2.7v3.4h-2.7zM683.7 607.7h2.7v3.4h-2.7zM683.7 620.1h2.7v3.4h-2.7zM693.3 509.5h2.7v3.4h-2.7zM693.3 521.9h2.7v3.4h-2.7zM693.3 534.2h2.7v3.4h-2.7zM693.3 546.6h2.7v3.4h-2.7zM693.3 558.9h2.7v3.4h-2.7zM693.3 571.3h2.7v3.4h-2.7zM693.3 583.6h2.7v3.4h-2.7zM693.3 596.0h2.7v3.4h-2.7zM693.3 608.3h2.7v3.4h-2.7zM693.3 620.7h2.7v3.4h-2.7zM703.0 510.0h2.7v3.4h-2.7zM703.0 522.3h2.7v3.4h-2.7zM703.0 534.7h2.7v3.4h-2.7zM703.0 547.1h2.7v3.4h-2.7zM703.0 559.4h2.7v3.4h-2.7zM703.0 571.8h2.7v3.4h-2.7zM703.0 584.2h2.7v3.4h-2.7zM703.0 596.6h2.7v3.4h-2.7zM703.0 608.9h2.7v3.4h-2.7zM703.0 621.3h2.7v3.4h-2.7zM712.8 510.4h2.7v3.4h-2.7zM712.8 522.8h2.7v3.4h-2.7zM712.8 535.2h2.7v3.4h-2.7zM712.8 547.6h2.7v3.4h-2.7zM712.8 560.0h2.7v3.4h-2.7zM712.8 572.3h2.7v3.4h-2.7zM712.8 584.7h2.7v3.4h-2.7zM712.8 597.1h2.7v3.4h-2.7zM712.8 609.5h2.7v3.4h-2.7zM712.8 621.9h2.7v3.4h-2.7zM722.6 510.8h2.8v3.4h-2.8zM722.6 523.2h2.8v3.4h-2.8zM722.6 535.6h2.8v3.4h-2.8zM722.6 548.0h2.8v3.4h-2.8zM722.6 560.5h2.8v3.4h-2.8zM722.6 572.9h2.8v3.4h-2.8zM722.6 585.3h2.8v3.4h-2.8zM722.6 597.7h2.8v3.4h-2.8zM722.6 610.1h2.8v3.4h-2.8zM722.6 622.5h2.8v3.4h-2.8zM732.4 511.2h2.8v3.4h-2.8zM732.4 523.7h2.8v3.4h-2.8zM732.4 536.1h2.8v3.4h-2.8zM732.4 548.5h2.8v3.4h-2.8zM732.4 561.0h2.8v3.4h-2.8zM732.4 573.4h2.8v3.4h-2.8zM732.4 585.9h2.8v3.4h-2.8zM732.4 598.3h2.8v3.4h-2.8zM732.4 610.7h2.8v3.4h-2.8zM732.4 623.2h2.8v3.4h-2.8zM742.3 511.7h2.8v3.4h-2.8zM742.3 524.1h2.8v3.4h-2.8zM742.3 536.6h2.8v3.4h-2.8zM742.3 549.0h2.8v3.4h-2.8zM742.3 561.5h2.8v3.4h-2.8zM742.3 574.0h2.8v3.4h-2.8zM742.3 586.4h2.8v3.4h-2.8zM742.3 598.9h2.8v3.4h-2.8zM742.3 611.3h2.8v3.4h-2.8zM742.3 623.8h2.8v3.4h-2.8zM752.3 512.1h2.8v3.5h-2.8zM752.3 524.6h2.8v3.5h-2.8zM752.3 537.1h2.8v3.5h-2.8zM752.3 549.5h2.8v3.5h-2.8zM752.3 562.0h2.8v3.5h-2.8zM752.3 574.5h2.8v3.5h-2.8zM752.3 587.0h2.8v3.5h-2.8zM752.3 599.5h2.8v3.5h-2.8zM752.3 611.9h2.8v3.5h-2.8zM752.3 624.4h2.8v3.5h-2.8zM762.2 512.5h2.8v3.5h-2.8zM762.2 525.0h2.8v3.5h-2.8zM762.2 537.5h2.8v3.5h-2.8zM762.2 550.0h2.8v3.5h-2.8zM762.2 562.5h2.8v3.5h-2.8zM762.2 575.0h2.8v3.5h-2.8zM762.2 587.5h2.8v3.5h-2.8zM762.2 600.0h2.8v3.5h-2.8zM762.2 612.5h2.8v3.5h-2.8zM762.2 625.1h2.8v3.5h-2.8zM772.3 513.0h2.8v3.5h-2.8zM772.3 525.5h2.8v3.5h-2.8zM772.3 538.0h2.8v3.5h-2.8zM772.3 550.5h2.8v3.5h-2.8zM772.3 563.1h2.8v3.5h-2.8zM772.3 575.6h2.8v3.5h-2.8zM772.3 588.1h2.8v3.5h-2.8zM772.3 600.6h2.8v3.5h-2.8zM772.3 613.2h2.8v3.5h-2.8zM772.3 625.7h2.8v3.5h-2.8zM782.3 513.4h2.9v3.5h-2.9zM782.3 525.9h2.9v3.5h-2.9zM782.3 538.5h2.9v3.5h-2.9zM782.3 551.0h2.9v3.5h-2.9zM782.3 563.6h2.9v3.5h-2.9zM782.3 576.1h2.9v3.5h-2.9zM782.3 588.7h2.9v3.5h-2.9zM782.3 601.2h2.9v3.5h-2.9zM782.3 613.8h2.9v3.5h-2.9zM782.3 626.3h2.9v3.5h-2.9zM792.5 513.8h2.9v3.5h-2.9zM792.5 526.4h2.9v3.5h-2.9zM792.5 539.0h2.9v3.5h-2.9zM792.5 551.5h2.9v3.5h-2.9zM792.5 564.1h2.9v3.5h-2.9zM792.5 576.7h2.9v3.5h-2.9zM792.5 589.3h2.9v3.5h-2.9zM792.5 601.8h2.9v3.5h-2.9zM792.5 614.4h2.9v3.5h-2.9zM792.5 627.0h2.9v3.5h-2.9zM802.6 514.3h2.9v3.5h-2.9zM802.6 526.9h2.9v3.5h-2.9zM802.6 539.5h2.9v3.5h-2.9zM802.6 552.0h2.9v3.5h-2.9zM802.6 564.6h2.9v3.5h-2.9zM802.6 577.2h2.9v3.5h-2.9zM802.6 589.8h2.9v3.5h-2.9zM802.6 602.4h2.9v3.5h-2.9zM802.6 615.0h2.9v3.5h-2.9zM802.6 627.6h2.9v3.5h-2.9zM812.8 514.7h2.9v3.5h-2.9zM812.8 527.3h2.9v3.5h-2.9zM812.8 539.9h2.9v3.5h-2.9zM812.8 552.6h2.9v3.5h-2.9zM812.8 565.2h2.9v3.5h-2.9zM812.8 577.8h2.9v3.5h-2.9zM812.8 590.4h2.9v3.5h-2.9zM812.8 603.0h2.9v3.5h-2.9zM812.8 615.6h2.9v3.5h-2.9zM812.8 628.3h2.9v3.5h-2.9zM823.1 515.2h2.9v3.5h-2.9zM823.1 527.8h2.9v3.5h-2.9zM823.1 540.4h2.9v3.5h-2.9zM823.1 553.1h2.9v3.5h-2.9zM823.1 565.7h2.9v3.5h-2.9zM823.1 578.3h2.9v3.5h-2.9zM823.1 591.0h2.9v3.5h-2.9zM823.1 603.6h2.9v3.5h-2.9zM823.1 616.3h2.9v3.5h-2.9zM823.1 628.9h2.9v3.5h-2.9zM833.4 515.6h2.9v3.5h-2.9zM833.4 528.3h2.9v3.5h-2.9zM833.4 540.9h2.9v3.5h-2.9zM833.4 553.6h2.9v3.5h-2.9zM833.4 566.2h2.9v3.5h-2.9zM833.4 578.9h2.9v3.5h-2.9zM833.4 591.6h2.9v3.5h-2.9zM833.4 604.2h2.9v3.5h-2.9zM833.4 616.9h2.9v3.5h-2.9zM833.4 629.6h2.9v3.5h-2.9zM843.7 516.0h2.9v3.6h-2.9zM843.7 528.7h2.9v3.6h-2.9zM843.7 541.4h2.9v3.6h-2.9zM843.7 554.1h2.9v3.6h-2.9zM843.7 566.8h2.9v3.6h-2.9zM843.7 579.5h2.9v3.6h-2.9zM843.7 592.2h2.9v3.6h-2.9zM843.7 604.8h2.9v3.6h-2.9zM843.7 617.5h2.9v3.6h-2.9zM843.7 630.2h2.9v3.6h-2.9zM854.1 516.5h3.0v3.6h-3.0zM854.1 529.2h3.0v3.6h-3.0zM854.1 541.9h3.0v3.6h-3.0zM854.1 554.6h3.0v3.6h-3.0zM854.1 567.3h3.0v3.6h-3.0zM854.1 580.0h3.0v3.6h-3.0zM854.1 592.7h3.0v3.6h-3.0zM854.1 605.5h3.0v3.6h-3.0zM854.1 618.2h3.0v3.6h-3.0zM854.1 630.9h3.0v3.6h-3.0zM864.5 516.9h3.0v3.6h-3.0zM864.5 529.7h3.0v3.6h-3.0zM864.5 542.4h3.0v3.6h-3.0zM864.5 555.1h3.0v3.6h-3.0zM864.5 567.9h3.0v3.6h-3.0zM864.5 580.6h3.0v3.6h-3.0zM864.5 593.3h3.0v3.6h-3.0zM864.5 606.1h3.0v3.6h-3.0zM864.5 618.8h3.0v3.6h-3.0zM864.5 631.5h3.0v3.6h-3.0zM875.0 517.4h3.0v3.6h-3.0zM875.0 530.2h3.0v3.6h-3.0zM875.0 542.9h3.0v3.6h-3.0zM875.0 555.7h3.0v3.6h-3.0zM875.0 568.4h3.0v3.6h-3.0zM875.0 581.2h3.0v3.6h-3.0zM875.0 593.9h3.0v3.6h-3.0zM875.0 606.7h3.0v3.6h-3.0zM875.0 619.4h3.0v3.6h-3.0zM875.0 632.2h3.0v3.6h-3.0z"/>
<rect x="609" y="376" width="4" height="236" fill="#4f504d" />
<rect x="885.8" y="378" width="14" height="324" fill="#8b8c88" />
<rect x="886.5" y="378" width="4" height="305" fill="#4d4e4b" />
<polygon points="866,656 887,650 897,702 886,702" fill="#858682" />
<rect x="360" y="650" width="23" height="177" fill="#565b58" />
<rect x="383" y="650" width="8" height="177" fill="#626764" />
<rect x="358" y="823" width="35" height="4" fill="#565b58" />
<rect x="366" y="660" width="10" height="160" fill="#4d5250" />
<rect x="829" y="660" width="23" height="227" fill="#5a5f5c" />
<rect x="852" y="660" width="8" height="227" fill="#6a6e6b" />
<rect x="827" y="883" width="35" height="4" fill="#5a5f5c" />
<rect x="835" y="670" width="12" height="205" fill="#505552" />
<polygon points="297,792 360,777 360,784 297,800" fill="#6a6f6c" />
<polygon points="297,800 360,784 360,796 297,812" fill="#525754" />
<polygon points="785,849 829,831 829,838 785,857" fill="#737774" />
<polygon points="785,857 829,838 829,851 785,869" fill="#5a5e5b" />
<rect x="260" y="633" width="26" height="225" fill="#5b605d" />
<rect x="286" y="633" width="11" height="225" fill="#4f5451" />
<rect x="258" y="854" width="41" height="4" fill="#5b605d" />
<rect x="747" y="668" width="30.8" height="256" fill="#6a6e6b" />
<rect x="777.8" y="668" width="7.2" height="256" fill="#585c59" />
<rect x="745" y="920" width="42" height="4" fill="#6a6e6b" />
<ellipse cx="277.5" cy="833" rx="1.8" ry="2.2" fill="#e8e8e8" />
<ellipse cx="277.5" cy="844" rx="1.8" ry="2.2" fill="#e8e8e8" />
<ellipse cx="762.5" cy="879" rx="1.8" ry="2.2" fill="#e8e8e8" />
<ellipse cx="762.5" cy="889" rx="1.8" ry="2.2" fill="#e8e8e8" />
<polygon points="222,632 790,676 790,683 262,646" fill="#474c4a" />
<polygon points="594,672 610,673 606,681 598,681" fill="#4a4e4c" />
<polygon points="219,616 358,597 887,631 896,633 790,659.5" fill="url(#top1)" />
<polygon points="219,616 790,659.5 790,677 221,633" fill="url(#edge1)" />
<polygon points="790,659.5 896,633 897,648 790,677" fill="url(#edge1)" />
<rect x="729" y="673" width="14" height="5" fill="#c0302f" />
<use href="#cab"/>
<use href="#vice"/>
<polygon points="155.4,648.5 165.4,645.1 180.5,648 191.9,642.3 250.1,662.2 246.8,672.1 244.9,673.1 243.4,704.8 228.3,707.1 189.5,691.5 159.2,681.1 155.4,679.2" fill="#6d6f6e" />
<polygon points="155.4,648.5 165.4,645.1 180.5,648 191.9,642.3 250.1,662.2 228.3,674.5 155.4,650.4" fill="#7c7e7d" />
<polygon points="228.3,674.5 246.8,672.1 243.4,704.8 228.3,707.1" fill="#828483" />
<path fill-rule="evenodd" fill="#e6e6e6" d="M158.3,652.7 L169.6,655.5 L169.6,680.2 L158.3,677.5 Z M161,663 L167,664.5 L167,668.5 L161,667 Z"/>
<polygon points="170.6,655.6 189.5,661.2 189.5,692.5 170.6,685.8" fill="#261d20" />
<polygon points="190.9,670.7 216,678.7 216,690.1 190.9,682.1" fill="#e2e2e2" />
<text x="991.4" y="218.5" ><tspan font-size="29.2" textLength="92.6" lengthAdjust="spacingAndGlyphs">LED-10</tspan><tspan font-size="28">固定式燈組</tspan></text>
<polyline points="737,311 812,235 1233,235" fill="none" stroke="#000" stroke-width="3" />
<text x="115.4" y="495.0" ><tspan font-size="28">虎鉗</tspan></text>
<text x="1018.0" y="573.0" ><tspan font-size="29.2" textLength="126.2" lengthAdjust="spacingAndGlyphs">W12+W11</tspan><tspan font-size="28">掛板組</tspan></text>
<polyline points="818.7,522 887,590 1238.5,590" fill="none" stroke="#000" stroke-width="3" />
<text x="68.4" y="734.5" ><tspan font-size="29.2" textLength="36.4" lengthAdjust="spacingAndGlyphs">PS</tspan><tspan font-size="28">電氣盒</tspan></text>
<text x="983.9" y="820.0" ><tspan font-size="29.2" textLength="83.4" lengthAdjust="spacingAndGlyphs">WH7M</tspan><tspan font-size="28">重型工作桌</tspan></text>
<polyline points="700.6,663.6 870,834 1221,834" fill="none" stroke="#000" stroke-width="3" />
<text x="176.4" y="931.0" ><tspan font-size="29.2" textLength="89.5" lengthAdjust="spacingAndGlyphs">C-3049</tspan><tspan font-size="28">吊櫃</tspan></text>
<polyline points="575,799 434.6,941.5 165.6,941.5" fill="none" stroke="#000" stroke-width="3" />
<polygon points="420,1156.5 813,1156 813,1169.5 420,1169" fill="url(#bar)" />
<rect x="419.3" y="1156.1" width="6" height="9.5" fill="#2f302e" />
<rect x="812.6" y="1155.8" width="11" height="13.8" fill="#252624" />
<polygon points="823.6,1156.5 858,1157.5 866,1161 866,1166 823.6,1166" fill="#a9aaa6" />
<polygon points="468,1169.7 490.2,1170.3 510,1208 510,1220.3 494,1220.3 494,1214.1" fill="#7c7d7a" />
<polygon points="468,1169.7 476.7,1169.7 500.1,1214.1 494,1220.3 494,1214.1" fill="#2e2f2d" />
<polygon points="851.1,1166.7 856.2,1157.8 866.1,1157.3 867.1,1161.7 887.4,1213 887.9,1229.9 873.6,1230.3 873,1223" fill="#a9aaa6" />
<polygon points="851.1,1166.7 858.2,1164.7 880.9,1222.9 873.6,1230.3 873,1223" fill="#2e2f2d" />
<rect x="497.5" y="1236" width="15" height="270" fill="#8b8c88" />
<rect x="508" y="1236" width="4" height="270" fill="#4f504d" />
<rect x="873" y="1237" width="15" height="345" fill="#8b8c88" />
<rect x="874" y="1237" width="4" height="330" fill="#4f504d" />
<polygon points="852,1534 873,1530 873,1596 866,1590" fill="#8b8c88" />
<polygon points="512,1243.6 873,1245.1 873,1275.4 512,1274.4" fill="#8f908c" />
<polyline points="512,1246.6 873,1248.1" fill="none" stroke="#a9aaa6" stroke-width="2" />
<polyline points="512,1255.6 873,1257.1" fill="none" stroke="#6c6d69" stroke-width="1.6" />
<polyline points="512,1272.4 873,1273.4" fill="none" stroke="#5f605c" stroke-width="2.6" />
<polygon points="512,1283.5 873,1285 873,1317 512,1316" fill="#8f908c" />
<polyline points="512,1286.5 873,1288" fill="none" stroke="#a9aaa6" stroke-width="2" />
<polyline points="512,1295.5 873,1297" fill="none" stroke="#6c6d69" stroke-width="1.6" />
<polyline points="512,1314 873,1315" fill="none" stroke="#5f605c" stroke-width="2.6" />
<polygon points="453,1323 873,1326 873,1336 453,1332" fill="#a6a7a3" />
<polygon points="453,1332 873,1336 873,1345 453,1338" fill="#7f807c" />
<polygon points="460,1338 497,1340 497,1352 486,1346" fill="#858682" />
<polygon points="838,1345 873,1345 873,1368 865,1358" fill="#8f908c" />
<polygon points="499.8,1360.4 874,1372.5 874,1500 499.8,1480" fill="#5c5d5c" />
<path fill="#f2f2f0" d="M516.4 1367.4h2.7v3.2h-2.7zM516.4 1379.1h2.7v3.2h-2.7zM516.4 1390.8h2.7v3.2h-2.7zM516.4 1402.5h2.7v3.2h-2.7zM516.4 1414.2h2.7v3.2h-2.7zM516.4 1426.0h2.7v3.2h-2.7zM516.4 1437.7h2.7v3.2h-2.7zM516.4 1449.4h2.7v3.2h-2.7zM516.4 1461.1h2.7v3.2h-2.7zM516.4 1472.8h2.7v3.2h-2.7zM525.9 1367.8h2.7v3.2h-2.7zM525.9 1379.5h2.7v3.2h-2.7zM525.9 1391.2h2.7v3.2h-2.7zM525.9 1403.0h2.7v3.2h-2.7zM525.9 1414.7h2.7v3.2h-2.7zM525.9 1426.4h2.7v3.2h-2.7zM525.9 1438.2h2.7v3.2h-2.7zM525.9 1449.9h2.7v3.2h-2.7zM525.9 1461.6h2.7v3.2h-2.7zM525.9 1473.4h2.7v3.2h-2.7zM535.5 1368.2h2.7v3.2h-2.7zM535.5 1379.9h2.7v3.2h-2.7zM535.5 1391.7h2.7v3.2h-2.7zM535.5 1403.4h2.7v3.2h-2.7zM535.5 1415.2h2.7v3.2h-2.7zM535.5 1426.9h2.7v3.2h-2.7zM535.5 1438.7h2.7v3.2h-2.7zM535.5 1450.4h2.7v3.2h-2.7zM535.5 1462.2h2.7v3.2h-2.7zM535.5 1474.0h2.7v3.2h-2.7zM545.2 1368.5h2.7v3.2h-2.7zM545.2 1380.3h2.7v3.2h-2.7zM545.2 1392.1h2.7v3.2h-2.7zM545.2 1403.9h2.7v3.2h-2.7zM545.2 1415.6h2.7v3.2h-2.7zM545.2 1427.4h2.7v3.2h-2.7zM545.2 1439.2h2.7v3.2h-2.7zM545.2 1451.0h2.7v3.2h-2.7zM545.2 1462.8h2.7v3.2h-2.7zM545.2 1474.5h2.7v3.2h-2.7zM554.8 1368.9h2.8v3.2h-2.8zM554.8 1380.7h2.8v3.2h-2.8zM554.8 1392.5h2.8v3.2h-2.8zM554.8 1404.3h2.8v3.2h-2.8zM554.8 1416.1h2.8v3.2h-2.8zM554.8 1427.9h2.8v3.2h-2.8zM554.8 1439.7h2.8v3.2h-2.8zM554.8 1451.5h2.8v3.2h-2.8zM554.8 1463.3h2.8v3.2h-2.8zM554.8 1475.1h2.8v3.2h-2.8zM564.6 1369.3h2.8v3.3h-2.8zM564.6 1381.1h2.8v3.3h-2.8zM564.6 1392.9h2.8v3.3h-2.8zM564.6 1404.8h2.8v3.3h-2.8zM564.6 1416.6h2.8v3.3h-2.8zM564.6 1428.4h2.8v3.3h-2.8zM564.6 1440.2h2.8v3.3h-2.8zM564.6 1452.1h2.8v3.3h-2.8zM564.6 1463.9h2.8v3.3h-2.8zM564.6 1475.7h2.8v3.3h-2.8zM574.3 1369.7h2.8v3.3h-2.8zM574.3 1381.5h2.8v3.3h-2.8zM574.3 1393.4h2.8v3.3h-2.8zM574.3 1405.2h2.8v3.3h-2.8zM574.3 1417.1h2.8v3.3h-2.8zM574.3 1428.9h2.8v3.3h-2.8zM574.3 1440.8h2.8v3.3h-2.8zM574.3 1452.6h2.8v3.3h-2.8zM574.3 1464.4h2.8v3.3h-2.8zM574.3 1476.3h2.8v3.3h-2.8zM584.1 1370.1h2.8v3.3h-2.8zM584.1 1381.9h2.8v3.3h-2.8zM584.1 1393.8h2.8v3.3h-2.8zM584.1 1405.7h2.8v3.3h-2.8zM584.1 1417.5h2.8v3.3h-2.8zM584.1 1429.4h2.8v3.3h-2.8zM584.1 1441.3h2.8v3.3h-2.8zM584.1 1453.1h2.8v3.3h-2.8zM584.1 1465.0h2.8v3.3h-2.8zM584.1 1476.9h2.8v3.3h-2.8zM593.9 1370.5h2.8v3.3h-2.8zM593.9 1382.3h2.8v3.3h-2.8zM593.9 1394.2h2.8v3.3h-2.8zM593.9 1406.1h2.8v3.3h-2.8zM593.9 1418.0h2.8v3.3h-2.8zM593.9 1429.9h2.8v3.3h-2.8zM593.9 1441.8h2.8v3.3h-2.8zM593.9 1453.7h2.8v3.3h-2.8zM593.9 1465.6h2.8v3.3h-2.8zM593.9 1477.5h2.8v3.3h-2.8zM603.8 1370.8h2.8v3.3h-2.8zM603.8 1382.8h2.8v3.3h-2.8zM603.8 1394.7h2.8v3.3h-2.8zM603.8 1406.6h2.8v3.3h-2.8zM603.8 1418.5h2.8v3.3h-2.8zM603.8 1430.4h2.8v3.3h-2.8zM603.8 1442.3h2.8v3.3h-2.8zM603.8 1454.2h2.8v3.3h-2.8zM603.8 1466.1h2.8v3.3h-2.8zM603.8 1478.1h2.8v3.3h-2.8zM613.7 1371.2h2.8v3.3h-2.8zM613.7 1383.2h2.8v3.3h-2.8zM613.7 1395.1h2.8v3.3h-2.8zM613.7 1407.0h2.8v3.3h-2.8zM613.7 1419.0h2.8v3.3h-2.8zM613.7 1430.9h2.8v3.3h-2.8zM613.7 1442.8h2.8v3.3h-2.8zM613.7 1454.8h2.8v3.3h-2.8zM613.7 1466.7h2.8v3.3h-2.8zM613.7 1478.7h2.8v3.3h-2.8zM623.6 1371.6h2.9v3.3h-2.9zM623.6 1383.6h2.9v3.3h-2.9zM623.6 1395.5h2.9v3.3h-2.9zM623.6 1407.5h2.9v3.3h-2.9zM623.6 1419.5h2.9v3.3h-2.9zM623.6 1431.4h2.9v3.3h-2.9zM623.6 1443.4h2.9v3.3h-2.9zM623.6 1455.3h2.9v3.3h-2.9zM623.6 1467.3h2.9v3.3h-2.9zM623.6 1479.3h2.9v3.3h-2.9zM633.6 1372.0h2.9v3.3h-2.9zM633.6 1384.0h2.9v3.3h-2.9zM633.6 1396.0h2.9v3.3h-2.9zM633.6 1408.0h2.9v3.3h-2.9zM633.6 1419.9h2.9v3.3h-2.9zM633.6 1431.9h2.9v3.3h-2.9zM633.6 1443.9h2.9v3.3h-2.9zM633.6 1455.9h2.9v3.3h-2.9zM633.6 1467.9h2.9v3.3h-2.9zM633.6 1479.9h2.9v3.3h-2.9zM643.6 1372.4h2.9v3.3h-2.9zM643.6 1384.4h2.9v3.3h-2.9zM643.6 1396.4h2.9v3.3h-2.9zM643.6 1408.4h2.9v3.3h-2.9zM643.6 1420.4h2.9v3.3h-2.9zM643.6 1432.4h2.9v3.3h-2.9zM643.6 1444.4h2.9v3.3h-2.9zM643.6 1456.4h2.9v3.3h-2.9zM643.6 1468.5h2.9v3.3h-2.9zM643.6 1480.5h2.9v3.3h-2.9zM653.6 1372.8h2.9v3.4h-2.9zM653.6 1384.8h2.9v3.4h-2.9zM653.6 1396.9h2.9v3.4h-2.9zM653.6 1408.9h2.9v3.4h-2.9zM653.6 1420.9h2.9v3.4h-2.9zM653.6 1432.9h2.9v3.4h-2.9zM653.6 1445.0h2.9v3.4h-2.9zM653.6 1457.0h2.9v3.4h-2.9zM653.6 1469.0h2.9v3.4h-2.9zM653.6 1481.1h2.9v3.4h-2.9zM663.7 1373.2h2.9v3.4h-2.9zM663.7 1385.3h2.9v3.4h-2.9zM663.7 1397.3h2.9v3.4h-2.9zM663.7 1409.4h2.9v3.4h-2.9zM663.7 1421.4h2.9v3.4h-2.9zM663.7 1433.5h2.9v3.4h-2.9zM663.7 1445.5h2.9v3.4h-2.9zM663.7 1457.6h2.9v3.4h-2.9zM663.7 1469.6h2.9v3.4h-2.9zM663.7 1481.7h2.9v3.4h-2.9zM673.8 1373.6h2.9v3.4h-2.9zM673.8 1385.7h2.9v3.4h-2.9zM673.8 1397.7h2.9v3.4h-2.9zM673.8 1409.8h2.9v3.4h-2.9zM673.8 1421.9h2.9v3.4h-2.9zM673.8 1434.0h2.9v3.4h-2.9zM673.8 1446.0h2.9v3.4h-2.9zM673.8 1458.1h2.9v3.4h-2.9zM673.8 1470.2h2.9v3.4h-2.9zM673.8 1482.3h2.9v3.4h-2.9zM683.9 1374.0h2.9v3.4h-2.9zM683.9 1386.1h2.9v3.4h-2.9zM683.9 1398.2h2.9v3.4h-2.9zM683.9 1410.3h2.9v3.4h-2.9zM683.9 1422.4h2.9v3.4h-2.9zM683.9 1434.5h2.9v3.4h-2.9zM683.9 1446.6h2.9v3.4h-2.9zM683.9 1458.7h2.9v3.4h-2.9zM683.9 1470.8h2.9v3.4h-2.9zM683.9 1482.9h2.9v3.4h-2.9zM694.1 1374.4h3.0v3.4h-3.0zM694.1 1386.5h3.0v3.4h-3.0zM694.1 1398.6h3.0v3.4h-3.0zM694.1 1410.8h3.0v3.4h-3.0zM694.1 1422.9h3.0v3.4h-3.0zM694.1 1435.0h3.0v3.4h-3.0zM694.1 1447.1h3.0v3.4h-3.0zM694.1 1459.3h3.0v3.4h-3.0zM694.1 1471.4h3.0v3.4h-3.0zM694.1 1483.5h3.0v3.4h-3.0zM704.3 1374.8h3.0v3.4h-3.0zM704.3 1386.9h3.0v3.4h-3.0zM704.3 1399.1h3.0v3.4h-3.0zM704.3 1411.2h3.0v3.4h-3.0zM704.3 1423.4h3.0v3.4h-3.0zM704.3 1435.5h3.0v3.4h-3.0zM704.3 1447.7h3.0v3.4h-3.0zM704.3 1459.8h3.0v3.4h-3.0zM704.3 1472.0h3.0v3.4h-3.0zM704.3 1484.1h3.0v3.4h-3.0zM714.6 1375.2h3.0v3.4h-3.0zM714.6 1387.4h3.0v3.4h-3.0zM714.6 1399.5h3.0v3.4h-3.0zM714.6 1411.7h3.0v3.4h-3.0zM714.6 1423.9h3.0v3.4h-3.0zM714.6 1436.1h3.0v3.4h-3.0zM714.6 1448.2h3.0v3.4h-3.0zM714.6 1460.4h3.0v3.4h-3.0zM714.6 1472.6h3.0v3.4h-3.0zM714.6 1484.7h3.0v3.4h-3.0zM724.9 1375.6h3.0v3.4h-3.0zM724.9 1387.8h3.0v3.4h-3.0zM724.9 1400.0h3.0v3.4h-3.0zM724.9 1412.2h3.0v3.4h-3.0zM724.9 1424.4h3.0v3.4h-3.0zM724.9 1436.6h3.0v3.4h-3.0zM724.9 1448.8h3.0v3.4h-3.0zM724.9 1461.0h3.0v3.4h-3.0zM724.9 1473.2h3.0v3.4h-3.0zM724.9 1485.4h3.0v3.4h-3.0zM735.2 1376.0h3.0v3.5h-3.0zM735.2 1388.2h3.0v3.5h-3.0zM735.2 1400.4h3.0v3.5h-3.0zM735.2 1412.7h3.0v3.5h-3.0zM735.2 1424.9h3.0v3.5h-3.0zM735.2 1437.1h3.0v3.5h-3.0zM735.2 1449.3h3.0v3.5h-3.0zM735.2 1461.5h3.0v3.5h-3.0zM735.2 1473.8h3.0v3.5h-3.0zM735.2 1486.0h3.0v3.5h-3.0zM745.6 1376.4h3.0v3.5h-3.0zM745.6 1388.7h3.0v3.5h-3.0zM745.6 1400.9h3.0v3.5h-3.0zM745.6 1413.1h3.0v3.5h-3.0zM745.6 1425.4h3.0v3.5h-3.0zM745.6 1437.6h3.0v3.5h-3.0zM745.6 1449.9h3.0v3.5h-3.0zM745.6 1462.1h3.0v3.5h-3.0zM745.6 1474.4h3.0v3.5h-3.0zM745.6 1486.6h3.0v3.5h-3.0zM756.0 1376.8h3.0v3.5h-3.0zM756.0 1389.1h3.0v3.5h-3.0zM756.0 1401.4h3.0v3.5h-3.0zM756.0 1413.6h3.0v3.5h-3.0zM756.0 1425.9h3.0v3.5h-3.0zM756.0 1438.2h3.0v3.5h-3.0zM756.0 1450.4h3.0v3.5h-3.0zM756.0 1462.7h3.0v3.5h-3.0zM756.0 1475.0h3.0v3.5h-3.0zM756.0 1487.2h3.0v3.5h-3.0zM766.4 1377.2h3.1v3.5h-3.1zM766.4 1389.5h3.1v3.5h-3.1zM766.4 1401.8h3.1v3.5h-3.1zM766.4 1414.1h3.1v3.5h-3.1zM766.4 1426.4h3.1v3.5h-3.1zM766.4 1438.7h3.1v3.5h-3.1zM766.4 1451.0h3.1v3.5h-3.1zM766.4 1463.3h3.1v3.5h-3.1zM766.4 1475.6h3.1v3.5h-3.1zM766.4 1487.9h3.1v3.5h-3.1zM776.9 1377.7h3.1v3.5h-3.1zM776.9 1390.0h3.1v3.5h-3.1zM776.9 1402.3h3.1v3.5h-3.1zM776.9 1414.6h3.1v3.5h-3.1zM776.9 1426.9h3.1v3.5h-3.1zM776.9 1439.2h3.1v3.5h-3.1zM776.9 1451.5h3.1v3.5h-3.1zM776.9 1463.9h3.1v3.5h-3.1zM776.9 1476.2h3.1v3.5h-3.1zM776.9 1488.5h3.1v3.5h-3.1zM787.4 1378.1h3.1v3.5h-3.1zM787.4 1390.4h3.1v3.5h-3.1zM787.4 1402.7h3.1v3.5h-3.1zM787.4 1415.1h3.1v3.5h-3.1zM787.4 1427.4h3.1v3.5h-3.1zM787.4 1439.8h3.1v3.5h-3.1zM787.4 1452.1h3.1v3.5h-3.1zM787.4 1464.4h3.1v3.5h-3.1zM787.4 1476.8h3.1v3.5h-3.1zM787.4 1489.1h3.1v3.5h-3.1zM797.9 1378.5h3.1v3.5h-3.1zM797.9 1390.8h3.1v3.5h-3.1zM797.9 1403.2h3.1v3.5h-3.1zM797.9 1415.6h3.1v3.5h-3.1zM797.9 1427.9h3.1v3.5h-3.1zM797.9 1440.3h3.1v3.5h-3.1zM797.9 1452.7h3.1v3.5h-3.1zM797.9 1465.0h3.1v3.5h-3.1zM797.9 1477.4h3.1v3.5h-3.1zM797.9 1489.7h3.1v3.5h-3.1zM808.5 1378.9h3.1v3.5h-3.1zM808.5 1391.3h3.1v3.5h-3.1zM808.5 1403.7h3.1v3.5h-3.1zM808.5 1416.1h3.1v3.5h-3.1zM808.5 1428.4h3.1v3.5h-3.1zM808.5 1440.8h3.1v3.5h-3.1zM808.5 1453.2h3.1v3.5h-3.1zM808.5 1465.6h3.1v3.5h-3.1zM808.5 1478.0h3.1v3.5h-3.1zM808.5 1490.4h3.1v3.5h-3.1zM819.1 1379.3h3.1v3.6h-3.1zM819.1 1391.7h3.1v3.6h-3.1zM819.1 1404.1h3.1v3.6h-3.1zM819.1 1416.6h3.1v3.6h-3.1zM819.1 1429.0h3.1v3.6h-3.1zM819.1 1441.4h3.1v3.6h-3.1zM819.1 1453.8h3.1v3.6h-3.1zM819.1 1466.2h3.1v3.6h-3.1zM819.1 1478.6h3.1v3.6h-3.1zM819.1 1491.0h3.1v3.6h-3.1zM829.7 1379.7h3.2v3.6h-3.2zM829.7 1392.2h3.2v3.6h-3.2zM829.7 1404.6h3.2v3.6h-3.2zM829.7 1417.0h3.2v3.6h-3.2zM829.7 1429.5h3.2v3.6h-3.2zM829.7 1441.9h3.2v3.6h-3.2zM829.7 1454.4h3.2v3.6h-3.2zM829.7 1466.8h3.2v3.6h-3.2zM829.7 1479.2h3.2v3.6h-3.2zM829.7 1491.7h3.2v3.6h-3.2zM840.4 1380.2h3.2v3.6h-3.2zM840.4 1392.6h3.2v3.6h-3.2zM840.4 1405.1h3.2v3.6h-3.2zM840.4 1417.5h3.2v3.6h-3.2zM840.4 1430.0h3.2v3.6h-3.2zM840.4 1442.5h3.2v3.6h-3.2zM840.4 1454.9h3.2v3.6h-3.2zM840.4 1467.4h3.2v3.6h-3.2zM840.4 1479.8h3.2v3.6h-3.2zM840.4 1492.3h3.2v3.6h-3.2zM851.1 1380.6h3.2v3.6h-3.2zM851.1 1393.1h3.2v3.6h-3.2zM851.1 1405.5h3.2v3.6h-3.2zM851.1 1418.0h3.2v3.6h-3.2zM851.1 1430.5h3.2v3.6h-3.2zM851.1 1443.0h3.2v3.6h-3.2zM851.1 1455.5h3.2v3.6h-3.2zM851.1 1468.0h3.2v3.6h-3.2zM851.1 1480.5h3.2v3.6h-3.2zM851.1 1493.0h3.2v3.6h-3.2zM861.9 1381.0h3.2v3.6h-3.2zM861.9 1393.5h3.2v3.6h-3.2zM861.9 1406.0h3.2v3.6h-3.2zM861.9 1418.5h3.2v3.6h-3.2zM861.9 1431.0h3.2v3.6h-3.2zM861.9 1443.6h3.2v3.6h-3.2zM861.9 1456.1h3.2v3.6h-3.2zM861.9 1468.6h3.2v3.6h-3.2zM861.9 1481.1h3.2v3.6h-3.2zM861.9 1493.6h3.2v3.6h-3.2z"/>
<polygon points="428.8,1691 494,1678 494,1685 428.8,1698" fill="#606362" />
<polygon points="428.8,1698 494,1685 494,1698 428.8,1712" fill="#505352" />
<rect x="392" y="1518" width="37" height="243" fill="url(#leg2)" />
<rect x="389" y="1756" width="42" height="5" fill="#555857" />
<rect x="493" y="1535" width="34.5" height="192" fill="url(#leg2)" />
<rect x="490" y="1722" width="40" height="5" fill="#555857" />
<rect x="405" y="1713" width="3" height="4" fill="#e8e8e8" />
<rect x="405" y="1724" width="3" height="4" fill="#e8e8e8" />
<rect x="514" y="1690" width="3" height="4" fill="#e8e8e8" />
<polygon points="352,1518 788,1548 788,1560 392,1537" fill="#414443" />
<polygon points="350,1502 498,1480 873,1498 896.5,1503.5 788,1532" fill="url(#top1)" />
<polygon points="350,1502 788,1532 788,1548 351,1518" fill="url(#edge)" />
<polygon points="788,1532 896.5,1503.5 896.5,1519 788,1548" fill="url(#edge)" />
<polygon points="774,1549 866,1534 866,1748 774,1808" fill="#535454" />
<polyline points="776,1795 866,1740" fill="none" stroke="#5c5d5d" stroke-width="1.2" />
<rect x="631.4" y="1549" width="143" height="259" fill="#3a3b3b" />
<rect x="740.4" y="1561" width="24.3" height="11.4" fill="#b02a2a" />
<ellipse cx="697.7" cy="1562.2" rx="3.2" ry="3.2" fill="#dadada" />
<polygon points="635.8,1568.6 766,1580.1 766,1795 635.8,1793" fill="#a5a6a5" />
<polygon points="635.8,1584.6 766,1596.3 766,1603.8 635.8,1594.2" fill="#4b4c4c" />
<polygon points="635.8,1613.5 766,1626.3 766,1630.6 635.8,1618.8" fill="#505151" />
<polygon points="635.8,1646.6 766,1658.4 766,1663.7 635.8,1655.2" fill="#4b4c4c" />
<polygon points="635.8,1684 766,1697 766,1701 635.8,1687" fill="#5a5b5b" />
<polygon points="635.8,1699 766,1716 766,1719.4 635.8,1707.6" fill="#4b4c4c" />
<polygon points="635.8,1750.4 766,1765.4 766,1769.7 635.8,1754.7" fill="#555656" />
<polygon points="635.8,1769.7 766,1789 766,1795 635.8,1776" fill="#404141" />
<polygon points="635.8,1568.6 766,1580.1 766,1582.6 635.8,1571.1" fill="#c3c4c3" />
<polygon points="635.8,1596 766,1608 766,1610.5 635.8,1598.5" fill="#c3c4c3" />
<polygon points="635.8,1633 766,1642.6 766,1645.1 635.8,1635.5" fill="#c3c4c3" />
<polygon points="635.8,1688 766,1701 766,1703.5 635.8,1690.5" fill="#c3c4c3" />
<polygon points="635.8,1755 766,1770 766,1772.5 635.8,1757.5" fill="#c3c4c3" />
<rect x="766" y="1568" width="8.6" height="240" fill="#3a3b3b" />
<polygon points="631.4,1793 774,1797 774,1808 631.4,1806" fill="#2f3030" />
<use href="#ps2"/>
<polygon points="342.3,1252.5 379.4,1227.3 430.7,1238.7 428.8,1251.5 422.8,1273.3 395.2,1299 391.2,1302.9 345.8,1292 342.3,1278.2" fill="#1f3b91" />
<polygon points="346,1252 379,1229 428,1240 400,1265 396,1283 346,1272" fill="#1a3080" />
<polygon points="399,1266 429,1240 428.8,1251.5 422.8,1273.3 395.2,1299 396,1283" fill="url(#blueside)" />
<rect x="347.5" y="1279" width="14" height="8" fill="#b33a35" />
<rect x="361" y="1282" width="27" height="9" fill="#e4e4e6" />
<polygon points="342.3,1347.3 385.3,1316.7 432.7,1327.1 428.8,1339.4 424.8,1355.2 389.3,1390.8 343.8,1379 342.3,1363.1" fill="#1f3b91" />
<polygon points="346,1347 385,1318.5 430,1329 396,1352 392,1371 346,1361" fill="#1a3080" />
<polygon points="395,1353 431,1328 428.8,1339.4 424.8,1355.2 389.3,1390.8 392,1371" fill="url(#blueside)" />
<rect x="346.5" y="1372" width="12" height="8" fill="#b33a35" />
<rect x="358.5" y="1373" width="24" height="11" fill="#e4e4e6" />
<polygon points="966.5,1302.5 1000.7,1303.2 1000.7,1329.5 990.9,1332.8 966.5,1329.5" fill="#a9a8a3" />
<ellipse cx="975" cy="1306" rx="14" ry="5" fill="none" stroke="#8a8984" stroke-width="2.5"/>
<ellipse cx="982.6" cy="1298" rx="3" ry="3" fill="#8a8984" />
<path d="M939.3,1415.7 Q937.3,1401.7 951.3,1405.7 Q959.3,1393.7 969.3,1403.7 Q983.3,1403.7 979.3,1417.7 Q985.3,1427.7 975.3,1433.7 Q971.3,1447.7 957.3,1443.7 Q943.3,1445.7 945.3,1431.7 Q933.3,1427.7 939.3,1415.7 Z" fill="#aaa9a5"/>
<rect x="956.3" y="1406.7" width="6" height="6" fill="#f8ddab" />
<rect x="958.3" y="1432.7" width="6" height="6" fill="#f8ddab" />
<polyline points="913.3,1427.7 915.3,1418.7 977.3,1409.7" fill="none" stroke="#555653" stroke-width="3" />
<path d="M991.3,1424.9 Q989.3,1410.9 1003.3,1414.9 Q1011.3,1402.9 1021.3,1412.9 Q1035.3,1412.9 1031.3,1426.9 Q1037.3,1436.9 1027.3,1442.9 Q1023.3,1456.9 1009.3,1452.9 Q995.3,1454.9 997.3,1440.9 Q985.3,1436.9 991.3,1424.9 Z" fill="#aaa9a5"/>
<rect x="1008.3" y="1415.9" width="6" height="6" fill="#f8ddab" />
<rect x="1010.3" y="1441.9" width="6" height="6" fill="#f8ddab" />
<polyline points="965.3,1436.9 967.3,1427.9 1029.3,1418.9" fill="none" stroke="#555653" stroke-width="3" />
<rect x="939.5" y="1490" width="26.5" height="68" rx="12" fill="#a3a29d"/>
<rect x="948.5" y="1498" width="9" height="8" fill="#f8ddab" />
<rect x="948.5" y="1542" width="9" height="8" fill="#f8ddab" />
<polygon points="929.5,1521 947.5,1517 963.5,1520 963.5,1530 947.5,1530 929.5,1527" fill="#c3c2be" />
<rect x="951.5" y="1518" width="12" height="12" fill="#6f6e6a" />
<rect x="978.4" y="1499.4" width="26.5" height="68" rx="12" fill="#a3a29d"/>
<rect x="987.4" y="1507.4" width="9" height="8" fill="#f8ddab" />
<rect x="987.4" y="1551.4" width="9" height="8" fill="#f8ddab" />
<polygon points="968.4,1530.4 986.4,1526.4 1002.4,1529.4 1002.4,1539.4 986.4,1539.4 968.4,1536.4" fill="#c3c2be" />
<rect x="990.4" y="1527.4" width="12" height="12" fill="#6f6e6a" />
<rect x="1018.5" y="1509" width="26.5" height="68" rx="12" fill="#a3a29d"/>
<rect x="1027.5" y="1517" width="9" height="8" fill="#f8ddab" />
<rect x="1027.5" y="1561" width="9" height="8" fill="#f8ddab" />
<polygon points="1008.5,1540 1026.5,1536 1042.5,1539 1042.5,1549 1026.5,1549 1008.5,1546" fill="#c3c2be" />
<rect x="1030.5" y="1537" width="12" height="12" fill="#6f6e6a" />
<text x="936.4" y="1077.5" ><tspan font-size="29.2" textLength="92.6" lengthAdjust="spacingAndGlyphs">LED-14</tspan><tspan font-size="28">固定式燈組</tspan></text>
<polyline points="682,1166 756,1091 1177,1091" fill="none" stroke="#000" stroke-width="3" />
<text x="136.9" y="1155.0" ><tspan font-size="29.2" textLength="56.1" lengthAdjust="spacingAndGlyphs">W12</tspan><tspan font-size="28">掛板組</tspan></text>
<polyline points="507.4,1264.7 412.6,1170 127,1170" fill="none" stroke="#000" stroke-width="3" />
<text x="135.4" y="1310.5" ><tspan font-size="29.2" textLength="92.6" lengthAdjust="spacingAndGlyphs">HB-210</tspan><tspan font-size="28">整理盒</tspan></text>
<text x="1047.4" y="1320.3" ><tspan font-size="29.2" textLength="107.7" lengthAdjust="spacingAndGlyphs">HK-6107</tspan></text>
<text x="137.9" y="1406.5" ><tspan font-size="29.2" textLength="92.6" lengthAdjust="spacingAndGlyphs">HB-220</tspan><tspan font-size="28">整理盒</tspan></text>
<text x="1072.0" y="1437.5" ><tspan font-size="29.2" textLength="107.7" lengthAdjust="spacingAndGlyphs">HK-2108</tspan></text>
<text x="135.4" y="1624.0" ><tspan font-size="29.2" textLength="60.7" lengthAdjust="spacingAndGlyphs">PS-2</tspan><tspan font-size="28">電氣盒</tspan></text>
<text x="1084.1" y="1549.0" ><tspan font-size="29.2" textLength="105.7" lengthAdjust="spacingAndGlyphs">HK-8110</tspan></text>
<text x="1056.4" y="1664.0" ><tspan font-size="29.2" textLength="83.4" lengthAdjust="spacingAndGlyphs">WH5M</tspan><tspan font-size="28">重型工作桌</tspan></text>
<polyline points="824,1534 971.6,1679.5 1289,1679.5" fill="none" stroke="#000" stroke-width="3" />
<text x="1056.2" y="1834.5" ><tspan font-size="29.2" textLength="129.0" lengthAdjust="spacingAndGlyphs">HDC-0751</tspan><tspan font-size="28">重型櫃</tspan></text>
<polyline points="775.6,1709 917.8,1850 1279,1850" fill="none" stroke="#000" stroke-width="3" />
<polygon points="370,2007 791,2008.5 791,2022 370,2018" fill="url(#bar)" />
<rect x="370.9" y="2008.3" width="7" height="10" fill="#252624" />
<rect x="790.4" y="2006.9" width="10.5" height="15.1" fill="#252624" />
<polygon points="800.9,2008 836,2008.8 848.6,2009.5 850.1,2018.1 839.2,2019.7 800.9,2018.1" fill="#a9aaa6" />
<polygon points="420.2,2018.2 444.9,2021.7 467.2,2062.2 467.7,2076 451.4,2076 450.9,2070.1 423.2,2022.7" fill="#7c7d7a" />
<polygon points="423.2,2021.7 431.1,2022.2 457.8,2070.1 451.4,2076 450.9,2070.1" fill="#2e2f2d" />
<polygon points="831.4,2019.7 839.2,2009.5 847.8,2010.3 872,2069.7 872,2085.4 854.8,2086.2 854,2079.1" fill="#a9aaa6" />
<polygon points="831.4,2019.7 839,2016 862,2078 854.8,2086.2 854,2079.1" fill="#2e2f2d" />
<polygon points="451.2,2109.9 858,2106 858,2380 451.2,2380" fill="#5b5d5c" />
<path fill="#f2f2f0" d="M470.2 2116.8h2.8v3.3h-2.8zM470.2 2129.4h2.8v3.3h-2.8zM470.2 2142.2h2.8v3.3h-2.8zM470.2 2154.8h2.8v3.3h-2.8zM470.2 2167.5h2.8v3.3h-2.8zM470.2 2180.2h2.8v3.3h-2.8zM470.2 2192.9h2.8v3.3h-2.8zM470.2 2205.6h2.8v3.3h-2.8zM470.2 2218.3h2.8v3.3h-2.8zM470.2 2231.0h2.8v3.3h-2.8zM480.5 2116.7h2.8v3.3h-2.8zM480.5 2129.5h2.8v3.3h-2.8zM480.5 2142.2h2.8v3.3h-2.8zM480.5 2154.9h2.8v3.3h-2.8zM480.5 2167.6h2.8v3.3h-2.8zM480.5 2180.3h2.8v3.3h-2.8zM480.5 2193.0h2.8v3.3h-2.8zM480.5 2205.7h2.8v3.3h-2.8zM480.5 2218.5h2.8v3.3h-2.8zM480.5 2231.2h2.8v3.3h-2.8zM490.9 2116.7h2.8v3.3h-2.8zM490.9 2129.5h2.8v3.3h-2.8zM490.9 2142.2h2.8v3.3h-2.8zM490.9 2154.9h2.8v3.3h-2.8zM490.9 2167.6h2.8v3.3h-2.8zM490.9 2180.4h2.8v3.3h-2.8zM490.9 2193.1h2.8v3.3h-2.8zM490.9 2205.8h2.8v3.3h-2.8zM490.9 2218.6h2.8v3.3h-2.8zM490.9 2231.3h2.8v3.3h-2.8zM501.4 2116.7h2.8v3.3h-2.8zM501.4 2129.5h2.8v3.3h-2.8zM501.4 2142.2h2.8v3.3h-2.8zM501.4 2154.9h2.8v3.3h-2.8zM501.4 2167.7h2.8v3.3h-2.8zM501.4 2180.4h2.8v3.3h-2.8zM501.4 2193.2h2.8v3.3h-2.8zM501.4 2205.9h2.8v3.3h-2.8zM501.4 2218.7h2.8v3.3h-2.8zM501.4 2231.4h2.8v3.3h-2.8zM511.8 2116.7h2.9v3.3h-2.9zM511.8 2129.5h2.9v3.3h-2.9zM511.8 2142.2h2.9v3.3h-2.9zM511.8 2155.0h2.9v3.3h-2.9zM511.8 2167.7h2.9v3.3h-2.9zM511.8 2180.5h2.9v3.3h-2.9zM511.8 2193.3h2.9v3.3h-2.9zM511.8 2206.0h2.9v3.3h-2.9zM511.8 2218.8h2.9v3.3h-2.9zM511.8 2231.5h2.9v3.3h-2.9zM522.3 2116.7h2.9v3.3h-2.9zM522.3 2129.5h2.9v3.3h-2.9zM522.3 2142.2h2.9v3.3h-2.9zM522.3 2155.0h2.9v3.3h-2.9zM522.3 2167.8h2.9v3.3h-2.9zM522.3 2180.6h2.9v3.3h-2.9zM522.3 2193.3h2.9v3.3h-2.9zM522.3 2206.1h2.9v3.3h-2.9zM522.3 2218.9h2.9v3.3h-2.9zM522.3 2231.7h2.9v3.3h-2.9zM532.8 2116.7h2.9v3.4h-2.9zM532.8 2129.5h2.9v3.4h-2.9zM532.8 2142.2h2.9v3.4h-2.9zM532.8 2155.0h2.9v3.4h-2.9zM532.8 2167.8h2.9v3.4h-2.9zM532.8 2180.6h2.9v3.4h-2.9zM532.8 2193.4h2.9v3.4h-2.9zM532.8 2206.2h2.9v3.4h-2.9zM532.8 2219.0h2.9v3.4h-2.9zM532.8 2231.8h2.9v3.4h-2.9zM543.4 2116.6h2.9v3.4h-2.9zM543.4 2129.5h2.9v3.4h-2.9zM543.4 2142.3h2.9v3.4h-2.9zM543.4 2155.1h2.9v3.4h-2.9zM543.4 2167.9h2.9v3.4h-2.9zM543.4 2180.7h2.9v3.4h-2.9zM543.4 2193.5h2.9v3.4h-2.9zM543.4 2206.3h2.9v3.4h-2.9zM543.4 2219.1h2.9v3.4h-2.9zM543.4 2231.9h2.9v3.4h-2.9zM554.0 2116.6h2.9v3.4h-2.9zM554.0 2129.5h2.9v3.4h-2.9zM554.0 2142.3h2.9v3.4h-2.9zM554.0 2155.1h2.9v3.4h-2.9zM554.0 2167.9h2.9v3.4h-2.9zM554.0 2180.8h2.9v3.4h-2.9zM554.0 2193.6h2.9v3.4h-2.9zM554.0 2206.4h2.9v3.4h-2.9zM554.0 2219.2h2.9v3.4h-2.9zM554.0 2232.1h2.9v3.4h-2.9zM564.6 2116.6h2.9v3.4h-2.9zM564.6 2129.5h2.9v3.4h-2.9zM564.6 2142.3h2.9v3.4h-2.9zM564.6 2155.1h2.9v3.4h-2.9zM564.6 2168.0h2.9v3.4h-2.9zM564.6 2180.8h2.9v3.4h-2.9zM564.6 2193.7h2.9v3.4h-2.9zM564.6 2206.5h2.9v3.4h-2.9zM564.6 2219.3h2.9v3.4h-2.9zM564.6 2232.2h2.9v3.4h-2.9zM575.3 2116.6h2.9v3.4h-2.9zM575.3 2129.5h2.9v3.4h-2.9zM575.3 2142.3h2.9v3.4h-2.9zM575.3 2155.2h2.9v3.4h-2.9zM575.3 2168.0h2.9v3.4h-2.9zM575.3 2180.9h2.9v3.4h-2.9zM575.3 2193.7h2.9v3.4h-2.9zM575.3 2206.6h2.9v3.4h-2.9zM575.3 2219.5h2.9v3.4h-2.9zM575.3 2232.3h2.9v3.4h-2.9zM586.0 2116.6h3.0v3.4h-3.0zM586.0 2129.5h3.0v3.4h-3.0zM586.0 2142.3h3.0v3.4h-3.0zM586.0 2155.2h3.0v3.4h-3.0zM586.0 2168.1h3.0v3.4h-3.0zM586.0 2180.9h3.0v3.4h-3.0zM586.0 2193.8h3.0v3.4h-3.0zM586.0 2206.7h3.0v3.4h-3.0zM586.0 2219.6h3.0v3.4h-3.0zM586.0 2232.4h3.0v3.4h-3.0zM596.8 2116.6h3.0v3.4h-3.0zM596.8 2129.5h3.0v3.4h-3.0zM596.8 2142.3h3.0v3.4h-3.0zM596.8 2155.2h3.0v3.4h-3.0zM596.8 2168.1h3.0v3.4h-3.0zM596.8 2181.0h3.0v3.4h-3.0zM596.8 2193.9h3.0v3.4h-3.0zM596.8 2206.8h3.0v3.4h-3.0zM596.8 2219.7h3.0v3.4h-3.0zM596.8 2232.6h3.0v3.4h-3.0zM607.6 2116.5h3.0v3.4h-3.0zM607.6 2129.5h3.0v3.4h-3.0zM607.6 2142.4h3.0v3.4h-3.0zM607.6 2155.3h3.0v3.4h-3.0zM607.6 2168.2h3.0v3.4h-3.0zM607.6 2181.1h3.0v3.4h-3.0zM607.6 2194.0h3.0v3.4h-3.0zM607.6 2206.9h3.0v3.4h-3.0zM607.6 2219.8h3.0v3.4h-3.0zM607.6 2232.7h3.0v3.4h-3.0zM618.4 2116.5h3.0v3.4h-3.0zM618.4 2129.5h3.0v3.4h-3.0zM618.4 2142.4h3.0v3.4h-3.0zM618.4 2155.3h3.0v3.4h-3.0zM618.4 2168.2h3.0v3.4h-3.0zM618.4 2181.1h3.0v3.4h-3.0zM618.4 2194.1h3.0v3.4h-3.0zM618.4 2207.0h3.0v3.4h-3.0zM618.4 2219.9h3.0v3.4h-3.0zM618.4 2232.8h3.0v3.4h-3.0zM629.2 2116.5h3.0v3.4h-3.0zM629.2 2129.5h3.0v3.4h-3.0zM629.2 2142.4h3.0v3.4h-3.0zM629.2 2155.3h3.0v3.4h-3.0zM629.2 2168.3h3.0v3.4h-3.0zM629.2 2181.2h3.0v3.4h-3.0zM629.2 2194.1h3.0v3.4h-3.0zM629.2 2207.1h3.0v3.4h-3.0zM629.2 2220.0h3.0v3.4h-3.0zM629.2 2233.0h3.0v3.4h-3.0zM640.1 2116.5h3.0v3.4h-3.0zM640.1 2129.5h3.0v3.4h-3.0zM640.1 2142.4h3.0v3.4h-3.0zM640.1 2155.4h3.0v3.4h-3.0zM640.1 2168.3h3.0v3.4h-3.0zM640.1 2181.3h3.0v3.4h-3.0zM640.1 2194.2h3.0v3.4h-3.0zM640.1 2207.2h3.0v3.4h-3.0zM640.1 2220.1h3.0v3.4h-3.0zM640.1 2233.1h3.0v3.4h-3.0zM651.1 2116.5h3.0v3.4h-3.0zM651.1 2129.5h3.0v3.4h-3.0zM651.1 2142.4h3.0v3.4h-3.0zM651.1 2155.4h3.0v3.4h-3.0zM651.1 2168.4h3.0v3.4h-3.0zM651.1 2181.3h3.0v3.4h-3.0zM651.1 2194.3h3.0v3.4h-3.0zM651.1 2207.3h3.0v3.4h-3.0zM651.1 2220.2h3.0v3.4h-3.0zM651.1 2233.2h3.0v3.4h-3.0zM662.0 2116.5h3.1v3.5h-3.1zM662.0 2129.5h3.1v3.5h-3.1zM662.0 2142.4h3.1v3.5h-3.1zM662.0 2155.4h3.1v3.5h-3.1zM662.0 2168.4h3.1v3.5h-3.1zM662.0 2181.4h3.1v3.5h-3.1zM662.0 2194.4h3.1v3.5h-3.1zM662.0 2207.4h3.1v3.5h-3.1zM662.0 2220.4h3.1v3.5h-3.1zM662.0 2233.3h3.1v3.5h-3.1zM673.0 2116.5h3.1v3.5h-3.1zM673.0 2129.5h3.1v3.5h-3.1zM673.0 2142.5h3.1v3.5h-3.1zM673.0 2155.5h3.1v3.5h-3.1zM673.0 2168.5h3.1v3.5h-3.1zM673.0 2181.5h3.1v3.5h-3.1zM673.0 2194.5h3.1v3.5h-3.1zM673.0 2207.5h3.1v3.5h-3.1zM673.0 2220.5h3.1v3.5h-3.1zM673.0 2233.5h3.1v3.5h-3.1zM684.0 2116.4h3.1v3.5h-3.1zM684.0 2129.5h3.1v3.5h-3.1zM684.0 2142.5h3.1v3.5h-3.1zM684.0 2155.5h3.1v3.5h-3.1zM684.0 2168.5h3.1v3.5h-3.1zM684.0 2181.5h3.1v3.5h-3.1zM684.0 2194.5h3.1v3.5h-3.1zM684.0 2207.6h3.1v3.5h-3.1zM684.0 2220.6h3.1v3.5h-3.1zM684.0 2233.6h3.1v3.5h-3.1zM695.1 2116.4h3.1v3.5h-3.1zM695.1 2129.5h3.1v3.5h-3.1zM695.1 2142.5h3.1v3.5h-3.1zM695.1 2155.5h3.1v3.5h-3.1zM695.1 2168.6h3.1v3.5h-3.1zM695.1 2181.6h3.1v3.5h-3.1zM695.1 2194.6h3.1v3.5h-3.1zM695.1 2207.7h3.1v3.5h-3.1zM695.1 2220.7h3.1v3.5h-3.1zM695.1 2233.7h3.1v3.5h-3.1zM706.2 2116.4h3.1v3.5h-3.1zM706.2 2129.5h3.1v3.5h-3.1zM706.2 2142.5h3.1v3.5h-3.1zM706.2 2155.6h3.1v3.5h-3.1zM706.2 2168.6h3.1v3.5h-3.1zM706.2 2181.7h3.1v3.5h-3.1zM706.2 2194.7h3.1v3.5h-3.1zM706.2 2207.8h3.1v3.5h-3.1zM706.2 2220.8h3.1v3.5h-3.1zM706.2 2233.9h3.1v3.5h-3.1zM717.4 2116.4h3.1v3.5h-3.1zM717.4 2129.5h3.1v3.5h-3.1zM717.4 2142.5h3.1v3.5h-3.1zM717.4 2155.6h3.1v3.5h-3.1zM717.4 2168.7h3.1v3.5h-3.1zM717.4 2181.7h3.1v3.5h-3.1zM717.4 2194.8h3.1v3.5h-3.1zM717.4 2207.9h3.1v3.5h-3.1zM717.4 2220.9h3.1v3.5h-3.1zM717.4 2234.0h3.1v3.5h-3.1zM728.6 2116.4h3.1v3.5h-3.1zM728.6 2129.5h3.1v3.5h-3.1zM728.6 2142.5h3.1v3.5h-3.1zM728.6 2155.6h3.1v3.5h-3.1zM728.6 2168.7h3.1v3.5h-3.1zM728.6 2181.8h3.1v3.5h-3.1zM728.6 2194.9h3.1v3.5h-3.1zM728.6 2208.0h3.1v3.5h-3.1zM728.6 2221.1h3.1v3.5h-3.1zM728.6 2234.1h3.1v3.5h-3.1zM739.8 2116.4h3.2v3.5h-3.2zM739.8 2129.5h3.2v3.5h-3.2zM739.8 2142.6h3.2v3.5h-3.2zM739.8 2155.7h3.2v3.5h-3.2zM739.8 2168.8h3.2v3.5h-3.2zM739.8 2181.9h3.2v3.5h-3.2zM739.8 2195.0h3.2v3.5h-3.2zM739.8 2208.1h3.2v3.5h-3.2zM739.8 2221.2h3.2v3.5h-3.2zM739.8 2234.3h3.2v3.5h-3.2zM751.0 2116.3h3.2v3.5h-3.2zM751.0 2129.5h3.2v3.5h-3.2zM751.0 2142.6h3.2v3.5h-3.2zM751.0 2155.7h3.2v3.5h-3.2zM751.0 2168.8h3.2v3.5h-3.2zM751.0 2181.9h3.2v3.5h-3.2zM751.0 2195.1h3.2v3.5h-3.2zM751.0 2208.2h3.2v3.5h-3.2zM751.0 2221.3h3.2v3.5h-3.2zM751.0 2234.4h3.2v3.5h-3.2zM762.3 2116.3h3.2v3.5h-3.2zM762.3 2129.5h3.2v3.5h-3.2zM762.3 2142.6h3.2v3.5h-3.2zM762.3 2155.7h3.2v3.5h-3.2zM762.3 2168.9h3.2v3.5h-3.2zM762.3 2182.0h3.2v3.5h-3.2zM762.3 2195.1h3.2v3.5h-3.2zM762.3 2208.3h3.2v3.5h-3.2zM762.3 2221.4h3.2v3.5h-3.2zM762.3 2234.5h3.2v3.5h-3.2zM773.6 2116.3h3.2v3.5h-3.2zM773.6 2129.5h3.2v3.5h-3.2zM773.6 2142.6h3.2v3.5h-3.2zM773.6 2155.8h3.2v3.5h-3.2zM773.6 2168.9h3.2v3.5h-3.2zM773.6 2182.1h3.2v3.5h-3.2zM773.6 2195.2h3.2v3.5h-3.2zM773.6 2208.4h3.2v3.5h-3.2zM773.6 2221.5h3.2v3.5h-3.2zM773.6 2234.7h3.2v3.5h-3.2zM785.0 2116.3h3.2v3.6h-3.2zM785.0 2129.5h3.2v3.6h-3.2zM785.0 2142.6h3.2v3.6h-3.2zM785.0 2155.8h3.2v3.6h-3.2zM785.0 2169.0h3.2v3.6h-3.2zM785.0 2182.1h3.2v3.6h-3.2zM785.0 2195.3h3.2v3.6h-3.2zM785.0 2208.5h3.2v3.6h-3.2zM785.0 2221.6h3.2v3.6h-3.2zM785.0 2234.8h3.2v3.6h-3.2zM796.4 2116.3h3.2v3.6h-3.2zM796.4 2129.5h3.2v3.6h-3.2zM796.4 2142.6h3.2v3.6h-3.2zM796.4 2155.8h3.2v3.6h-3.2zM796.4 2169.0h3.2v3.6h-3.2zM796.4 2182.2h3.2v3.6h-3.2zM796.4 2195.4h3.2v3.6h-3.2zM796.4 2208.6h3.2v3.6h-3.2zM796.4 2221.8h3.2v3.6h-3.2zM796.4 2235.0h3.2v3.6h-3.2zM807.8 2116.3h3.3v3.6h-3.3zM807.8 2129.5h3.3v3.6h-3.3zM807.8 2142.7h3.3v3.6h-3.3zM807.8 2155.9h3.3v3.6h-3.3zM807.8 2169.1h3.3v3.6h-3.3zM807.8 2182.3h3.3v3.6h-3.3zM807.8 2195.5h3.3v3.6h-3.3zM807.8 2208.7h3.3v3.6h-3.3zM807.8 2221.9h3.3v3.6h-3.3zM807.8 2235.1h3.3v3.6h-3.3zM819.3 2116.2h3.3v3.6h-3.3zM819.3 2129.5h3.3v3.6h-3.3zM819.3 2142.7h3.3v3.6h-3.3zM819.3 2155.9h3.3v3.6h-3.3zM819.3 2169.1h3.3v3.6h-3.3zM819.3 2182.3h3.3v3.6h-3.3zM819.3 2195.6h3.3v3.6h-3.3zM819.3 2208.8h3.3v3.6h-3.3zM819.3 2222.0h3.3v3.6h-3.3zM819.3 2235.2h3.3v3.6h-3.3zM830.8 2116.2h3.3v3.6h-3.3zM830.8 2129.5h3.3v3.6h-3.3zM830.8 2142.7h3.3v3.6h-3.3zM830.8 2155.9h3.3v3.6h-3.3zM830.8 2169.2h3.3v3.6h-3.3zM830.8 2182.4h3.3v3.6h-3.3zM830.8 2195.6h3.3v3.6h-3.3zM830.8 2208.9h3.3v3.6h-3.3zM830.8 2222.1h3.3v3.6h-3.3zM830.8 2235.4h3.3v3.6h-3.3zM842.4 2116.2h3.3v3.6h-3.3zM842.4 2129.5h3.3v3.6h-3.3zM842.4 2142.7h3.3v3.6h-3.3zM842.4 2156.0h3.3v3.6h-3.3zM842.4 2169.2h3.3v3.6h-3.3zM842.4 2182.5h3.3v3.6h-3.3zM842.4 2195.7h3.3v3.6h-3.3zM842.4 2209.0h3.3v3.6h-3.3zM842.4 2222.2h3.3v3.6h-3.3zM842.4 2235.5h3.3v3.6h-3.3z"/>
<path fill="#f2f2f0" d="M470.2 2249.8h2.8v3.3h-2.8zM470.2 2262.2h2.8v3.3h-2.8zM470.2 2274.6h2.8v3.3h-2.8zM470.2 2287.1h2.8v3.3h-2.8zM470.2 2299.5h2.8v3.3h-2.8zM470.2 2311.9h2.8v3.3h-2.8zM470.2 2324.4h2.8v3.3h-2.8zM470.2 2336.8h2.8v3.3h-2.8zM470.2 2349.2h2.8v3.3h-2.8zM480.5 2249.9h2.8v3.3h-2.8zM480.5 2262.4h2.8v3.3h-2.8zM480.5 2274.8h2.8v3.3h-2.8zM480.5 2287.3h2.8v3.3h-2.8zM480.5 2299.7h2.8v3.3h-2.8zM480.5 2312.2h2.8v3.3h-2.8zM480.5 2324.7h2.8v3.3h-2.8zM480.5 2337.1h2.8v3.3h-2.8zM480.5 2349.6h2.8v3.3h-2.8zM490.9 2250.1h2.8v3.3h-2.8zM490.9 2262.5h2.8v3.3h-2.8zM490.9 2275.0h2.8v3.3h-2.8zM490.9 2287.5h2.8v3.3h-2.8zM490.9 2300.0h2.8v3.3h-2.8zM490.9 2312.5h2.8v3.3h-2.8zM490.9 2325.0h2.8v3.3h-2.8zM490.9 2337.4h2.8v3.3h-2.8zM490.9 2349.9h2.8v3.3h-2.8zM501.4 2250.2h2.8v3.3h-2.8zM501.4 2262.7h2.8v3.3h-2.8zM501.4 2275.2h2.8v3.3h-2.8zM501.4 2287.7h2.8v3.3h-2.8zM501.4 2300.2h2.8v3.3h-2.8zM501.4 2312.7h2.8v3.3h-2.8zM501.4 2325.2h2.8v3.3h-2.8zM501.4 2337.7h2.8v3.3h-2.8zM501.4 2350.3h2.8v3.3h-2.8zM511.8 2250.4h2.9v3.3h-2.9zM511.8 2262.9h2.9v3.3h-2.9zM511.8 2275.4h2.9v3.3h-2.9zM511.8 2287.9h2.9v3.3h-2.9zM511.8 2300.5h2.9v3.3h-2.9zM511.8 2313.0h2.9v3.3h-2.9zM511.8 2325.5h2.9v3.3h-2.9zM511.8 2338.1h2.9v3.3h-2.9zM511.8 2350.6h2.9v3.3h-2.9zM522.3 2250.5h2.9v3.3h-2.9zM522.3 2263.1h2.9v3.3h-2.9zM522.3 2275.6h2.9v3.3h-2.9zM522.3 2288.2h2.9v3.3h-2.9zM522.3 2300.7h2.9v3.3h-2.9zM522.3 2313.3h2.9v3.3h-2.9zM522.3 2325.8h2.9v3.3h-2.9zM522.3 2338.4h2.9v3.3h-2.9zM522.3 2350.9h2.9v3.3h-2.9zM532.8 2250.7h2.9v3.4h-2.9zM532.8 2263.2h2.9v3.4h-2.9zM532.8 2275.8h2.9v3.4h-2.9zM532.8 2288.4h2.9v3.4h-2.9zM532.8 2301.0h2.9v3.4h-2.9zM532.8 2313.5h2.9v3.4h-2.9zM532.8 2326.1h2.9v3.4h-2.9zM532.8 2338.7h2.9v3.4h-2.9zM532.8 2351.3h2.9v3.4h-2.9zM543.4 2250.8h2.9v3.4h-2.9zM543.4 2263.4h2.9v3.4h-2.9zM543.4 2276.0h2.9v3.4h-2.9zM543.4 2288.6h2.9v3.4h-2.9zM543.4 2301.2h2.9v3.4h-2.9zM543.4 2313.8h2.9v3.4h-2.9zM543.4 2326.4h2.9v3.4h-2.9zM543.4 2339.0h2.9v3.4h-2.9zM543.4 2351.6h2.9v3.4h-2.9zM554.0 2251.0h2.9v3.4h-2.9zM554.0 2263.6h2.9v3.4h-2.9zM554.0 2276.2h2.9v3.4h-2.9zM554.0 2288.8h2.9v3.4h-2.9zM554.0 2301.5h2.9v3.4h-2.9zM554.0 2314.1h2.9v3.4h-2.9zM554.0 2326.7h2.9v3.4h-2.9zM554.0 2339.3h2.9v3.4h-2.9zM554.0 2351.9h2.9v3.4h-2.9zM564.6 2251.1h2.9v3.4h-2.9zM564.6 2263.8h2.9v3.4h-2.9zM564.6 2276.4h2.9v3.4h-2.9zM564.6 2289.1h2.9v3.4h-2.9zM564.6 2301.7h2.9v3.4h-2.9zM564.6 2314.4h2.9v3.4h-2.9zM564.6 2327.0h2.9v3.4h-2.9zM564.6 2339.6h2.9v3.4h-2.9zM564.6 2352.3h2.9v3.4h-2.9zM575.3 2251.3h2.9v3.4h-2.9zM575.3 2264.0h2.9v3.4h-2.9zM575.3 2276.6h2.9v3.4h-2.9zM575.3 2289.3h2.9v3.4h-2.9zM575.3 2302.0h2.9v3.4h-2.9zM575.3 2314.6h2.9v3.4h-2.9zM575.3 2327.3h2.9v3.4h-2.9zM575.3 2340.0h2.9v3.4h-2.9zM575.3 2352.6h2.9v3.4h-2.9zM586.0 2251.4h3.0v3.4h-3.0zM586.0 2264.1h3.0v3.4h-3.0zM586.0 2276.8h3.0v3.4h-3.0zM586.0 2289.5h3.0v3.4h-3.0zM586.0 2302.2h3.0v3.4h-3.0zM586.0 2314.9h3.0v3.4h-3.0zM586.0 2327.6h3.0v3.4h-3.0zM586.0 2340.3h3.0v3.4h-3.0zM586.0 2353.0h3.0v3.4h-3.0zM596.8 2251.6h3.0v3.4h-3.0zM596.8 2264.3h3.0v3.4h-3.0zM596.8 2277.0h3.0v3.4h-3.0zM596.8 2289.7h3.0v3.4h-3.0zM596.8 2302.5h3.0v3.4h-3.0zM596.8 2315.2h3.0v3.4h-3.0zM596.8 2327.9h3.0v3.4h-3.0zM596.8 2340.6h3.0v3.4h-3.0zM596.8 2353.3h3.0v3.4h-3.0zM607.6 2251.8h3.0v3.4h-3.0zM607.6 2264.5h3.0v3.4h-3.0zM607.6 2277.2h3.0v3.4h-3.0zM607.6 2290.0h3.0v3.4h-3.0zM607.6 2302.7h3.0v3.4h-3.0zM607.6 2315.4h3.0v3.4h-3.0zM607.6 2328.2h3.0v3.4h-3.0zM607.6 2340.9h3.0v3.4h-3.0zM607.6 2353.7h3.0v3.4h-3.0zM618.4 2251.9h3.0v3.4h-3.0zM618.4 2264.7h3.0v3.4h-3.0zM618.4 2277.4h3.0v3.4h-3.0zM618.4 2290.2h3.0v3.4h-3.0zM618.4 2303.0h3.0v3.4h-3.0zM618.4 2315.7h3.0v3.4h-3.0zM618.4 2328.5h3.0v3.4h-3.0zM618.4 2341.2h3.0v3.4h-3.0zM618.4 2354.0h3.0v3.4h-3.0zM629.2 2252.1h3.0v3.4h-3.0zM629.2 2264.9h3.0v3.4h-3.0zM629.2 2277.6h3.0v3.4h-3.0zM629.2 2290.4h3.0v3.4h-3.0zM629.2 2303.2h3.0v3.4h-3.0zM629.2 2316.0h3.0v3.4h-3.0zM629.2 2328.8h3.0v3.4h-3.0zM629.2 2341.6h3.0v3.4h-3.0zM629.2 2354.4h3.0v3.4h-3.0zM640.1 2252.2h3.0v3.4h-3.0zM640.1 2265.0h3.0v3.4h-3.0zM640.1 2277.9h3.0v3.4h-3.0zM640.1 2290.7h3.0v3.4h-3.0zM640.1 2303.5h3.0v3.4h-3.0zM640.1 2316.3h3.0v3.4h-3.0zM640.1 2329.1h3.0v3.4h-3.0zM640.1 2341.9h3.0v3.4h-3.0zM640.1 2354.7h3.0v3.4h-3.0zM651.1 2252.4h3.0v3.4h-3.0zM651.1 2265.2h3.0v3.4h-3.0zM651.1 2278.1h3.0v3.4h-3.0zM651.1 2290.9h3.0v3.4h-3.0zM651.1 2303.7h3.0v3.4h-3.0zM651.1 2316.6h3.0v3.4h-3.0zM651.1 2329.4h3.0v3.4h-3.0zM651.1 2342.2h3.0v3.4h-3.0zM651.1 2355.1h3.0v3.4h-3.0zM662.0 2252.6h3.1v3.5h-3.1zM662.0 2265.4h3.1v3.5h-3.1zM662.0 2278.3h3.1v3.5h-3.1zM662.0 2291.1h3.1v3.5h-3.1zM662.0 2304.0h3.1v3.5h-3.1zM662.0 2316.8h3.1v3.5h-3.1zM662.0 2329.7h3.1v3.5h-3.1zM662.0 2342.6h3.1v3.5h-3.1zM662.0 2355.4h3.1v3.5h-3.1zM673.0 2252.7h3.1v3.5h-3.1zM673.0 2265.6h3.1v3.5h-3.1zM673.0 2278.5h3.1v3.5h-3.1zM673.0 2291.4h3.1v3.5h-3.1zM673.0 2304.2h3.1v3.5h-3.1zM673.0 2317.1h3.1v3.5h-3.1zM673.0 2330.0h3.1v3.5h-3.1zM673.0 2342.9h3.1v3.5h-3.1zM673.0 2355.8h3.1v3.5h-3.1zM684.0 2252.9h3.1v3.5h-3.1zM684.0 2265.8h3.1v3.5h-3.1zM684.0 2278.7h3.1v3.5h-3.1zM684.0 2291.6h3.1v3.5h-3.1zM684.0 2304.5h3.1v3.5h-3.1zM684.0 2317.4h3.1v3.5h-3.1zM684.0 2330.3h3.1v3.5h-3.1zM684.0 2343.2h3.1v3.5h-3.1zM684.0 2356.1h3.1v3.5h-3.1zM695.1 2253.0h3.1v3.5h-3.1zM695.1 2266.0h3.1v3.5h-3.1zM695.1 2278.9h3.1v3.5h-3.1zM695.1 2291.8h3.1v3.5h-3.1zM695.1 2304.8h3.1v3.5h-3.1zM695.1 2317.7h3.1v3.5h-3.1zM695.1 2330.6h3.1v3.5h-3.1zM695.1 2343.5h3.1v3.5h-3.1zM695.1 2356.5h3.1v3.5h-3.1zM706.2 2253.2h3.1v3.5h-3.1zM706.2 2266.2h3.1v3.5h-3.1zM706.2 2279.1h3.1v3.5h-3.1zM706.2 2292.1h3.1v3.5h-3.1zM706.2 2305.0h3.1v3.5h-3.1zM706.2 2318.0h3.1v3.5h-3.1zM706.2 2330.9h3.1v3.5h-3.1zM706.2 2343.9h3.1v3.5h-3.1zM706.2 2356.8h3.1v3.5h-3.1zM717.4 2253.4h3.1v3.5h-3.1zM717.4 2266.3h3.1v3.5h-3.1zM717.4 2279.3h3.1v3.5h-3.1zM717.4 2292.3h3.1v3.5h-3.1zM717.4 2305.3h3.1v3.5h-3.1zM717.4 2318.3h3.1v3.5h-3.1zM717.4 2331.2h3.1v3.5h-3.1zM717.4 2344.2h3.1v3.5h-3.1zM717.4 2357.2h3.1v3.5h-3.1zM728.6 2253.5h3.1v3.5h-3.1zM728.6 2266.5h3.1v3.5h-3.1zM728.6 2279.5h3.1v3.5h-3.1zM728.6 2292.5h3.1v3.5h-3.1zM728.6 2305.5h3.1v3.5h-3.1zM728.6 2318.5h3.1v3.5h-3.1zM728.6 2331.5h3.1v3.5h-3.1zM728.6 2344.5h3.1v3.5h-3.1zM728.6 2357.5h3.1v3.5h-3.1zM739.8 2253.7h3.2v3.5h-3.2zM739.8 2266.7h3.2v3.5h-3.2zM739.8 2279.7h3.2v3.5h-3.2zM739.8 2292.8h3.2v3.5h-3.2zM739.8 2305.8h3.2v3.5h-3.2zM739.8 2318.8h3.2v3.5h-3.2zM739.8 2331.9h3.2v3.5h-3.2zM739.8 2344.9h3.2v3.5h-3.2zM739.8 2357.9h3.2v3.5h-3.2zM751.0 2253.9h3.2v3.5h-3.2zM751.0 2266.9h3.2v3.5h-3.2zM751.0 2280.0h3.2v3.5h-3.2zM751.0 2293.0h3.2v3.5h-3.2zM751.0 2306.1h3.2v3.5h-3.2zM751.0 2319.1h3.2v3.5h-3.2zM751.0 2332.2h3.2v3.5h-3.2zM751.0 2345.2h3.2v3.5h-3.2zM751.0 2358.3h3.2v3.5h-3.2zM762.3 2254.0h3.2v3.5h-3.2zM762.3 2267.1h3.2v3.5h-3.2zM762.3 2280.2h3.2v3.5h-3.2zM762.3 2293.3h3.2v3.5h-3.2zM762.3 2306.3h3.2v3.5h-3.2zM762.3 2319.4h3.2v3.5h-3.2zM762.3 2332.5h3.2v3.5h-3.2zM762.3 2345.6h3.2v3.5h-3.2zM762.3 2358.6h3.2v3.5h-3.2zM773.6 2254.2h3.2v3.5h-3.2zM773.6 2267.3h3.2v3.5h-3.2zM773.6 2280.4h3.2v3.5h-3.2zM773.6 2293.5h3.2v3.5h-3.2zM773.6 2306.6h3.2v3.5h-3.2zM773.6 2319.7h3.2v3.5h-3.2zM773.6 2332.8h3.2v3.5h-3.2zM773.6 2345.9h3.2v3.5h-3.2zM773.6 2359.0h3.2v3.5h-3.2zM785.0 2254.4h3.2v3.6h-3.2zM785.0 2267.5h3.2v3.6h-3.2zM785.0 2280.6h3.2v3.6h-3.2zM785.0 2293.7h3.2v3.6h-3.2zM785.0 2306.9h3.2v3.6h-3.2zM785.0 2320.0h3.2v3.6h-3.2zM785.0 2333.1h3.2v3.6h-3.2zM785.0 2346.2h3.2v3.6h-3.2zM785.0 2359.4h3.2v3.6h-3.2zM796.4 2254.5h3.2v3.6h-3.2zM796.4 2267.7h3.2v3.6h-3.2zM796.4 2280.8h3.2v3.6h-3.2zM796.4 2294.0h3.2v3.6h-3.2zM796.4 2307.1h3.2v3.6h-3.2zM796.4 2320.3h3.2v3.6h-3.2zM796.4 2333.4h3.2v3.6h-3.2zM796.4 2346.6h3.2v3.6h-3.2zM796.4 2359.7h3.2v3.6h-3.2zM807.8 2254.7h3.3v3.6h-3.3zM807.8 2267.9h3.3v3.6h-3.3zM807.8 2281.0h3.3v3.6h-3.3zM807.8 2294.2h3.3v3.6h-3.3zM807.8 2307.4h3.3v3.6h-3.3zM807.8 2320.6h3.3v3.6h-3.3zM807.8 2333.7h3.3v3.6h-3.3zM807.8 2346.9h3.3v3.6h-3.3zM807.8 2360.1h3.3v3.6h-3.3zM819.3 2254.9h3.3v3.6h-3.3zM819.3 2268.1h3.3v3.6h-3.3zM819.3 2281.3h3.3v3.6h-3.3zM819.3 2294.5h3.3v3.6h-3.3zM819.3 2307.7h3.3v3.6h-3.3zM819.3 2320.9h3.3v3.6h-3.3zM819.3 2334.1h3.3v3.6h-3.3zM819.3 2347.3h3.3v3.6h-3.3zM819.3 2360.5h3.3v3.6h-3.3zM830.8 2255.0h3.3v3.6h-3.3zM830.8 2268.3h3.3v3.6h-3.3zM830.8 2281.5h3.3v3.6h-3.3zM830.8 2294.7h3.3v3.6h-3.3zM830.8 2307.9h3.3v3.6h-3.3zM830.8 2321.2h3.3v3.6h-3.3zM830.8 2334.4h3.3v3.6h-3.3zM830.8 2347.6h3.3v3.6h-3.3zM830.8 2360.8h3.3v3.6h-3.3zM842.4 2255.2h3.3v3.6h-3.3zM842.4 2268.4h3.3v3.6h-3.3zM842.4 2281.7h3.3v3.6h-3.3zM842.4 2294.9h3.3v3.6h-3.3zM842.4 2308.2h3.3v3.6h-3.3zM842.4 2321.4h3.3v3.6h-3.3zM842.4 2334.7h3.3v3.6h-3.3zM842.4 2347.9h3.3v3.6h-3.3zM842.4 2361.2h3.3v3.6h-3.3z"/>
<polyline points="451.2,2241.6 858,2247" fill="none" stroke="#3f4140" stroke-width="2.2" />
<rect x="858" y="2106" width="14" height="292" fill="#6d6f6e" />
<rect x="859" y="2106" width="4" height="292" fill="#343535" />
<rect x="435.7" y="2404" width="19.3" height="213" fill="#484b4a" />
<rect x="455" y="2404" width="14.4" height="213" fill="#5c5f5e" />
<rect x="432.7" y="2613" width="39.7" height="5" fill="#565957" />
<rect x="840.6" y="2399" width="27.4" height="264" fill="#484b4a" />
<rect x="868" y="2399" width="10.5" height="264" fill="#5f6261" />
<rect x="837.6" y="2659" width="43.9" height="5" fill="#565957" />
<polygon points="340.2,2568.6 437,2553.5 437,2560 340.2,2576" fill="#6f7270" />
<polygon points="340.2,2576 437,2560 437,2571 340.2,2586.7" fill="#4b4e4d" />
<polygon points="769,2612 840.6,2589 840.6,2595 769,2619" fill="#6d706e" />
<polygon points="769,2619 840.6,2595 840.6,2605 769,2631" fill="#4b4e4d" />
<rect x="304" y="2399" width="26.3" height="253" fill="#5b5e5c" />
<rect x="330.3" y="2399" width="9.9" height="253" fill="#4b4e4d" />
<rect x="301" y="2648" width="42.2" height="5" fill="#565957" />
<rect x="729.5" y="2420" width="32" height="285" fill="#5e615f" />
<rect x="761.5" y="2420" width="7.5" height="285" fill="#4d504f" />
<rect x="726.5" y="2701" width="45.5" height="5" fill="#565957" />
<ellipse cx="316" cy="2590" rx="1.8" ry="2.2" fill="#e8e8e8" />
<ellipse cx="316" cy="2601" rx="1.8" ry="2.2" fill="#e8e8e8" />
<ellipse cx="745" cy="2641" rx="1.8" ry="2.2" fill="#e8e8e8" />
<ellipse cx="745" cy="2652" rx="1.8" ry="2.2" fill="#e8e8e8" />
<polygon points="308.1,2375.5 451,2360.5 858,2372 875.2,2378 760.8,2393.6" fill="#6b6f6c" />
<polygon points="308.1,2375.5 760.8,2393.6 769,2399 330,2384.6" fill="#464b4a" />
<polygon points="760.8,2393.6 875.2,2378 876,2382 769,2399" fill="#4d5251" />
<polygon points="330,2384.6 729,2397 729,2419 330,2406" fill="#6a6d6b" />
<polygon points="769,2397.7 871,2383 871,2404 769,2419" fill="#646765" />
<rect x="304" y="2377" width="26.3" height="22.4" fill="#717472" />
<rect x="728.7" y="2397" width="40.3" height="23.8" fill="#6c6f6d" />
<ellipse cx="310" cy="2390" rx="1.8" ry="1.8" fill="#dcdcdc" />
<ellipse cx="323" cy="2391" rx="1.8" ry="1.8" fill="#dcdcdc" />
<ellipse cx="735" cy="2409" rx="1.8" ry="1.8" fill="#dcdcdc" />
<ellipse cx="752" cy="2410" rx="1.8" ry="1.8" fill="#dcdcdc" />
<ellipse cx="767" cy="2411" rx="1.8" ry="1.8" fill="#dcdcdc" />
<rect x="732" y="2430.3" width="28.8" height="9.9" fill="#c2302b" />
<use href="#cab" transform="translate(524,2441.3) scale(0.797) translate(-485,-700)"/>
<use href="#vice" transform="translate(25,1787)"/>
<use href="#ps2" transform="translate(182.7,2412.8) scale(0.81) translate(-246.2,-1550.3)"/>
<rect x="352.6" y="2142.7" width="11" height="28" rx="5" fill="#8f8e8a"/>
<rect x="356.1" y="2147.7" width="4" height="4" fill="#fff" />
<rect x="356.1" y="2161.7" width="4" height="4" fill="#fff" />
<rect x="370.4" y="2147.1" width="11" height="28" rx="5" fill="#8f8e8a"/>
<rect x="373.9" y="2152.1" width="4" height="4" fill="#fff" />
<rect x="373.9" y="2166.1" width="4" height="4" fill="#fff" />
<rect x="388.9" y="2152.3" width="11" height="28" rx="5" fill="#8f8e8a"/>
<rect x="392.4" y="2157.3" width="4" height="4" fill="#fff" />
<rect x="392.4" y="2171.3" width="4" height="4" fill="#fff" />
<rect x="406.7" y="2156.7" width="11" height="28" rx="5" fill="#8f8e8a"/>
<rect x="410.2" y="2161.7" width="4" height="4" fill="#fff" />
<rect x="410.2" y="2175.7" width="4" height="4" fill="#fff" />
<rect x="426.0" y="2161.2" width="11" height="28" rx="5" fill="#8f8e8a"/>
<rect x="429.5" y="2166.2" width="4" height="4" fill="#fff" />
<rect x="429.5" y="2180.2" width="4" height="4" fill="#fff" />
<polyline points="337.1,2159.7 337.1,2164.7 362.1,2155.7" fill="none" stroke="#5a5b58" stroke-width="1.8" />
<polyline points="354.9,2164.1 354.9,2169.1 379.9,2160.1" fill="none" stroke="#5a5b58" stroke-width="1.8" />
<polyline points="373.4,2169.3 373.4,2174.3 398.4,2165.3" fill="none" stroke="#5a5b58" stroke-width="1.8" />
<polyline points="391.2,2173.7 391.2,2178.7 416.2,2169.7" fill="none" stroke="#5a5b58" stroke-width="1.8" />
<polyline points="410.5,2178.2 410.5,2183.2 435.5,2174.2" fill="none" stroke="#5a5b58" stroke-width="1.8" />
<ellipse cx="298.1" cy="2224.8" rx="20.7" ry="11.9" fill="none" stroke="#8d8c88" stroke-width="1.6" transform="rotate(-15 298.1 2224.8)"/>
<path d="M303.1,2208 Q304.1,2201 312.1,2203 Q316.1,2195 324.1,2201 Q334.1,2205 334.1,2213 Q332.1,2221 324.1,2221 Q322.1,2231 314.1,2227 Q302.1,2219 303.1,2208 Z" fill="#9a9994"/>
<rect x="316.1" y="2202" width="4" height="4" fill="#fff" />
<rect x="317.1" y="2220" width="4" height="4" fill="#fff" />
<polyline points="306.1,2210 332.1,2216" fill="none" stroke="#6c6b67" stroke-width="3" />
<ellipse cx="375.2" cy="2241.9" rx="20.7" ry="11.9" fill="none" stroke="#8d8c88" stroke-width="1.6" transform="rotate(-15 375.2 2241.9)"/>
<path d="M379.4,2223.5 Q380.4,2216.5 388.4,2218.5 Q392.4,2210.5 400.4,2216.5 Q410.4,2220.5 410.4,2228.5 Q408.4,2236.5 400.4,2236.5 Q398.4,2246.5 390.4,2242.5 Q378.4,2234.5 379.4,2223.5 Z" fill="#9a9994"/>
<rect x="392.4" y="2217.5" width="4" height="4" fill="#fff" />
<rect x="393.4" y="2235.5" width="4" height="4" fill="#fff" />
<polyline points="382.4,2225.5 408.4,2231.5" fill="none" stroke="#6c6b67" stroke-width="3" />
<polygon points="884.4,2256.7 911,2231.7 915,2232 915,2279 907.8,2279.4 884.4,2275.5" fill="#141515" />
<polygon points="884.4,2265 907.8,2268 907.8,2279.4 884.4,2275.5" fill="#0e0f0f" />
<polygon points="911,2231.7 978.2,2237.2 978.2,2268.5 907.8,2279.4 910,2260" fill="#a9a9a5" />
<polygon points="913,2233 970,2238 970,2244 913,2240" fill="#2f3030" />
<rect x="917" y="2257" width="3" height="5" fill="#2a2b2b" />
<rect x="924.5" y="2257.5" width="3" height="5" fill="#2a2b2b" />
<rect x="932" y="2258" width="3" height="5" fill="#2a2b2b" />
<rect x="939.5" y="2258.5" width="3" height="5" fill="#2a2b2b" />
<rect x="947" y="2259" width="3" height="5" fill="#2a2b2b" />
<rect x="954.5" y="2259.5" width="3" height="5" fill="#2a2b2b" />
<rect x="962" y="2260" width="3" height="5" fill="#2a2b2b" />
<polygon points="887,2255 889.5,2253 889.5,2258 887,2260" fill="#d8d8d8" />
<polygon points="891,2251.4 893.5,2249.4 893.5,2254.4 891,2256.4" fill="#d8d8d8" />
<polygon points="895,2247.8 897.5,2245.8 897.5,2250.8 895,2252.8" fill="#d8d8d8" />
<polygon points="899,2244.2 901.5,2242.2 901.5,2247.2 899,2249.2" fill="#d8d8d8" />
<polygon points="903,2240.6 905.5,2238.6 905.5,2243.6 903,2245.6" fill="#d8d8d8" />
<polygon points="907,2237 909.5,2235 909.5,2240 907,2242" fill="#d8d8d8" />
<polygon points="900,2322.4 976.6,2324.5 1053.3,2342.8 1053.3,2368.6 900,2349.8" fill="#b0b1af" />
<polygon points="918.8,2326.3 951.6,2329.5 951.6,2349.8 918.8,2345.1" fill="#3c3d3d" />
<polygon points="900,2323.2 918.8,2326.3 918.8,2345.1 900,2343.5" fill="#c9cac8" />
<polygon points="951.6,2331.8 996.2,2338.8 996.2,2354.5 951.6,2349.8" fill="#d8d9d7" />
<polygon points="996.2,2340.4 1053.3,2342.8 1053.3,2368.6 996.2,2356" fill="#1f2020" />
<polygon points="888.3,2317.7 896.9,2315.7 978.2,2322 1053.3,2342 1053.3,2343.5 976.6,2324.5 900,2323.2" fill="#c4c5c3" />
<polygon points="885.2,2352.9 900,2350.6 1053.3,2368.6 1053.3,2376.4" fill="#d0d1cf" />
<polygon points="885.2,2352.9 1053.3,2376.4 1043.9,2390.4 885.2,2362.3" fill="#8a8b89" />
<text x="847.1" y="1925.0" ><tspan font-size="29.2" textLength="92.6" lengthAdjust="spacingAndGlyphs">LED-14</tspan><tspan font-size="28">固定式燈組</tspan></text>
<polyline points="593,2016 667,1939 1087.5,1939" fill="none" stroke="#000" stroke-width="3" />
<text x="224.4" y="2145.7" ><tspan font-size="29.2" textLength="103.7" lengthAdjust="spacingAndGlyphs">HK-1110</tspan></text>
<text x="152.4" y="2212.4" ><tspan font-size="29.2" textLength="107.7" lengthAdjust="spacingAndGlyphs">HK-3175</tspan></text>
<text x="134.4" y="2281.0" ><tspan font-size="28">虎鉗</tspan></text>
<text x="1002.9" y="2261.0" ><tspan font-size="29.2" textLength="105.7" lengthAdjust="spacingAndGlyphs">HK-4114</tspan></text>
<text x="1093.4" y="2392.6" ><tspan font-size="29.2" textLength="107.7" lengthAdjust="spacingAndGlyphs">HK-5120</tspan></text>
<text x="84.4" y="2490.5" ><tspan font-size="29.2" textLength="60.7" lengthAdjust="spacingAndGlyphs">PS-2</tspan><tspan font-size="28">電氣盒</tspan></text>
<text x="1108.0" y="2509.0" ><tspan font-size="29.2" textLength="56.1" lengthAdjust="spacingAndGlyphs">W22</tspan><tspan font-size="28">掛板組</tspan></text>
<polyline points="828,2350 1001.7,2524 1252.3,2524" fill="none" stroke="#000" stroke-width="3" />
<text x="925.8" y="2665.0" ><tspan font-size="29.2" textLength="68.2" lengthAdjust="spacingAndGlyphs">WH5I</tspan><tspan font-size="28">重型鋼製桌面工作桌</tspan></text>
<polyline points="754,2515 917,2681 1252.3,2681" fill="none" stroke="#000" stroke-width="3" />
<text x="137.9" y="2739.0" ><tspan font-size="29.2" textLength="89.5" lengthAdjust="spacingAndGlyphs">C-3049</tspan><tspan font-size="28">吊櫃</tspan></text>
<polyline points="630.7,2515 397.3,2750 129.6,2750" fill="none" stroke="#000" stroke-width="3" />
<g transform="translate(45,2861) rotate(45)"><rect x="-11" y="-4.5" width="22" height="9" rx="4.5" fill="#f06a22"/><rect x="-4.5" y="-11" width="9" height="22" rx="4.5" fill="#1f9e73"/><rect x="-4.5" y="-4.5" width="9" height="9" fill="#6b5a3a"/></g>
<text x="78.8" y="2868.0" ><tspan font-size="28">嘗試不同的工作桌配件組合，是工作效率達到最高階段</tspan></text>
</svg>
</body></html>
